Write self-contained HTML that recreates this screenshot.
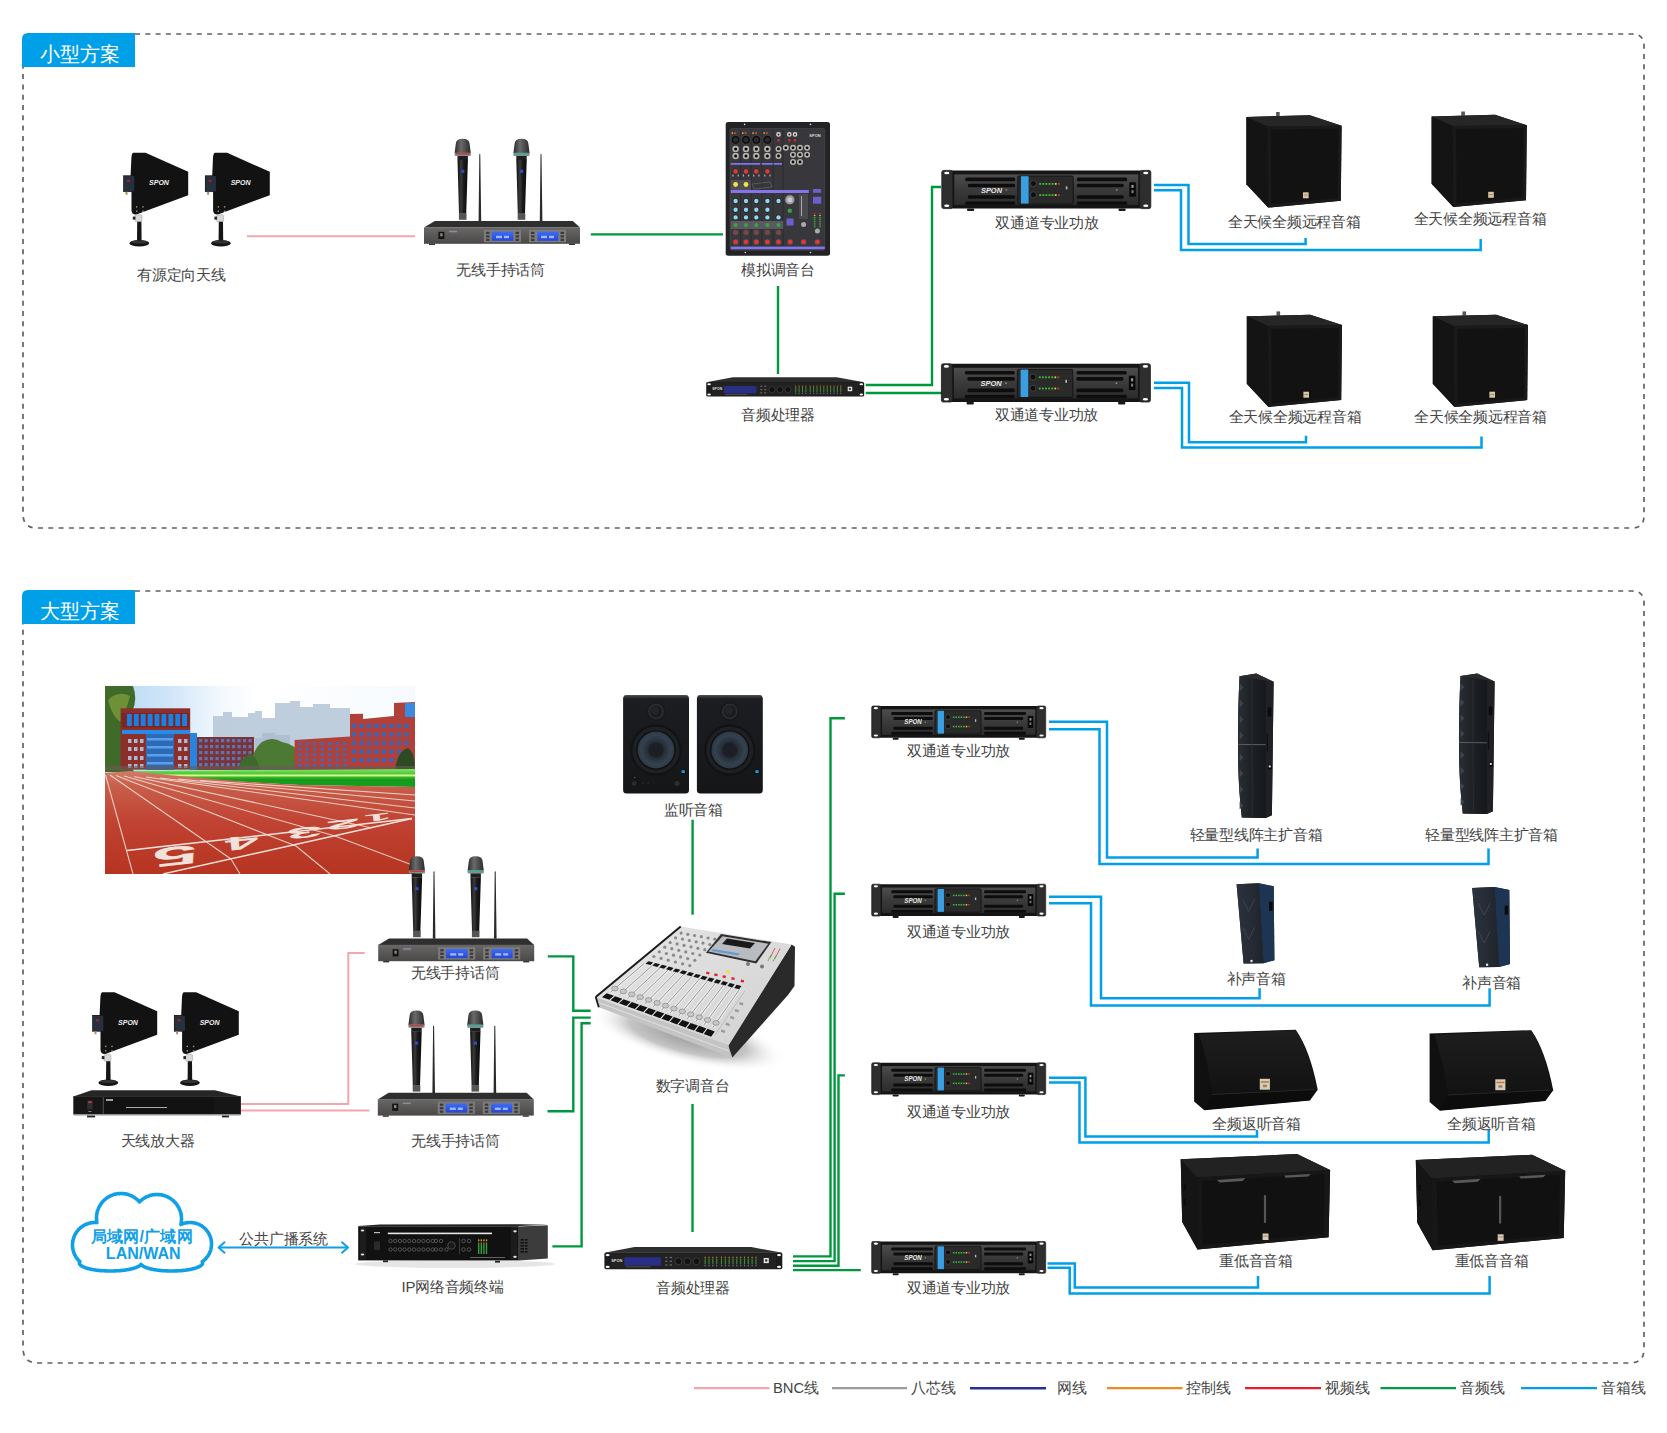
<!DOCTYPE html>
<html><head><meta charset="utf-8">
<style>
html,body{margin:0;padding:0;background:#fff;}
body{width:1667px;height:1433px;overflow:hidden;position:relative;font-family:"Liberation Sans",sans-serif;}
svg{position:absolute;left:0;top:0;}
.t{font-family:"Liberation Sans",sans-serif;font-size:15px;letter-spacing:-0.25px;fill:#444;text-anchor:middle;}
.tab{font-family:"Liberation Sans",sans-serif;font-size:20.3px;fill:#fff;}
.lg{font-family:"Liberation Sans",sans-serif;font-size:14.8px;fill:#444;}
.g{stroke:#00983e;stroke-width:2.4;fill:none;}
.b{stroke:#00a0e9;stroke-width:2.5;fill:none;}
.p{stroke:#f4a6ad;stroke-width:2;fill:none;}
</style></head><body>
<svg width="1667" height="1433" viewBox="0 0 1667 1433">

<defs>
<linearGradient id="brush" x1="0" y1="0" x2="0" y2="1"><stop offset="0" stop-color="#4d4d4d"/><stop offset="0.5" stop-color="#3a3a3a"/><stop offset="1" stop-color="#2c2c2c"/></linearGradient>
<linearGradient id="rxfront" x1="0" y1="0" x2="0" y2="1"><stop offset="0" stop-color="#6a6866"/><stop offset="1" stop-color="#4a4846"/></linearGradient>
<linearGradient id="scr" x1="0" y1="0" x2="0" y2="1"><stop offset="0" stop-color="#3f6cf2"/><stop offset="1" stop-color="#2346d8"/></linearGradient>
<linearGradient id="mich" x1="0" y1="0" x2="1" y2="0"><stop offset="0" stop-color="#111"/><stop offset="0.35" stop-color="#3a3a3a"/><stop offset="0.6" stop-color="#1a1a1a"/><stop offset="1" stop-color="#0c0c0c"/></linearGradient>
<linearGradient id="mhead" x1="0" y1="0" x2="1" y2="0"><stop offset="0" stop-color="#2a2a2a"/><stop offset="0.4" stop-color="#6a6a6a"/><stop offset="1" stop-color="#2a2a2a"/></linearGradient>

<!-- AMP 209 x 41 -->
<g id="amp">
<rect x="10" y="0" width="189" height="38.2" fill="#151515" rx="1"/>
<rect x="0" y="0" width="11" height="38.2" rx="1.8" fill="#2e2e2e" stroke="#1a1a1a" stroke-width="0.8"/>
<rect x="198" y="0" width="11" height="38.2" rx="1.8" fill="#2e2e2e" stroke="#1a1a1a" stroke-width="0.8"/>
<ellipse cx="5" cy="2.6" rx="2.6" ry="1.3" fill="#fff"/><ellipse cx="5" cy="35.4" rx="2.6" ry="1.3" fill="#fff"/>
<ellipse cx="204" cy="2.6" rx="2.6" ry="1.3" fill="#fff"/><ellipse cx="204" cy="35.4" rx="2.6" ry="1.3" fill="#fff"/>
<rect x="12.5" y="4" width="184" height="30.5" fill="url(#brush)"/>
<g fill="#0d0d0d">
<rect x="23.4" y="7.2" width="50" height="3.6" rx="1.5"/><rect x="26" y="13.3" width="47.4" height="3.6" rx="1.5"/>
<rect x="26" y="24.8" width="47.4" height="3.6" rx="1.5"/><rect x="23.4" y="31" width="50" height="3.4" rx="1.5"/>
<rect x="135" y="7.2" width="50.4" height="3.6" rx="1.5"/><rect x="135" y="13.3" width="47" height="3.6" rx="1.5"/>
<rect x="135" y="24.8" width="47" height="3.6" rx="1.5"/><rect x="135" y="31" width="50.4" height="3.4" rx="1.5"/>
</g>
<text x="49.7" y="22.2" font-family="Liberation Sans" font-weight="bold" font-style="italic" font-size="7.6" fill="#e8e8e8" text-anchor="middle" textLength="21" lengthAdjust="spacingAndGlyphs">SPON</text>
<circle cx="64.5" cy="19.4" r="0.9" fill="#a08a60"/><circle cx="175" cy="19.4" r="0.9" fill="#a08a60"/>
<rect x="76" y="5.6" width="55.4" height="28" rx="1.2" fill="#2a2a2a" stroke="#0e0e0e" stroke-width="0.8"/>
<rect x="79.2" y="5.8" width="7.6" height="27.4" fill="#3a9ee2"/>
<circle cx="91.6" cy="13.2" r="3" fill="#0e0e0e" stroke="#5a5a5a" stroke-width="0.6"/>
<circle cx="91.6" cy="24.4" r="3" fill="#0e0e0e" stroke="#5a5a5a" stroke-width="0.6"/>
<g fill="#3fbf3f">
<rect x="97.5" y="12.6" width="1.8" height="1.8"/><rect x="100.6" y="12.6" width="1.8" height="1.8"/><rect x="103.7" y="12.6" width="1.8" height="1.8"/><rect x="106.8" y="12.6" width="1.8" height="1.8"/><rect x="109.9" y="12.6" width="1.8" height="1.8"/>
<rect x="97.5" y="23.8" width="1.8" height="1.8"/><rect x="100.6" y="23.8" width="1.8" height="1.8"/><rect x="103.7" y="23.8" width="1.8" height="1.8"/><rect x="106.8" y="23.8" width="1.8" height="1.8"/><rect x="109.9" y="23.8" width="1.8" height="1.8"/>
</g>
<rect x="113" y="12.6" width="1.8" height="1.8" fill="#e0d030"/><rect x="116.1" y="12.6" width="1.8" height="1.8" fill="#e03020"/>
<rect x="113" y="23.8" width="1.8" height="1.8" fill="#e0d030"/><rect x="116.1" y="23.8" width="1.8" height="1.8" fill="#e03020"/>
<rect x="124" y="16" width="1.6" height="3" fill="#bbb"/>
<rect x="187.5" y="11.9" width="6.5" height="14.4" fill="#080808"/><rect x="189.6" y="14.5" width="2.2" height="3" fill="#999"/><rect x="189.6" y="19.8" width="2.2" height="3" fill="#777"/>
<rect x="25.2" y="38" width="7.2" height="2.6" rx="1" fill="#1a1a1a"/><rect x="176.7" y="38" width="7.2" height="2.6" rx="1" fill="#1a1a1a"/>
</g>

<!-- RECEIVER 156 x 106 -->
<g id="mic">
<path d="M1.2 5 Q1.5 0 8.1 0 Q14.7 0 15 5 L16.2 14.5 L0 14.5 Z" fill="url(#mhead)"/>
<rect x="0" y="14" width="16.2" height="3.2" rx="1" fill="#8a8a8a"/>
<rect x="2.9" y="17.2" width="10.4" height="4" fill="#1e1e1e"/>
<path d="M2.9 21 L13.3 21 L11.6 75 L4.4 75 Z" fill="url(#mich)"/>
<rect x="6.6" y="31" width="3.2" height="3" fill="#2b4fd0"/>
<rect x="4.3" y="74.5" width="7.6" height="6.5" fill="#555"/>
</g>
<g id="rx">
<use href="#mic" x="30.6" y="0"/>
<g transform="translate(89.4,0)"><use href="#mic"/></g>
<rect x="31.8" y="14.2" width="13.8" height="1.6" fill="#c03030" opacity="0.8"/>
<rect x="90.6" y="14.2" width="13.8" height="1.6" fill="#30b0a0" opacity="0.9"/>
<path d="M54.6 82.5 L55.3 16 Q55.8 13.8 56.3 16 L57.2 82.5 Z" fill="#2a2a2a"/>
<path d="M115.8 82.5 L116.5 16 Q117 13.8 117.5 16 L118.4 82.5 Z" fill="#2a2a2a"/>
<path d="M10.8 82.2 H148.8 L156 88.8 H0 Z" fill="#2f2f2f"/>
<rect x="0" y="88.6" width="156" height="16.4" fill="url(#rxfront)"/>
<rect x="5" y="104.8" width="6" height="1.4" fill="#333"/><rect x="145" y="104.8" width="6" height="1.4" fill="#333"/>
<rect x="14.4" y="93" width="6" height="7.2" fill="#151515"/><rect x="16.2" y="94.5" width="2.4" height="3" fill="#888"/>
<rect x="25" y="92" width="8" height="1.5" fill="#8a8aa0"/>
<rect x="60" y="91" width="37" height="12.4" fill="#7c7c7c"/><rect x="105" y="91" width="37" height="12.4" fill="#7c7c7c"/>
<rect x="67.8" y="92.8" width="21.6" height="9.2" fill="url(#scr)"/><rect x="113.4" y="92.8" width="21" height="9.2" fill="url(#scr)"/>
<g fill="#3a3a3a"><rect x="62" y="93" width="3.5" height="2.2"/><rect x="62" y="96.5" width="3.5" height="2.2"/><rect x="62" y="100" width="3.5" height="2.2"/>
<rect x="91.5" y="93" width="3.5" height="2.2"/><rect x="91.5" y="96.5" width="3.5" height="2.2"/><rect x="91.5" y="100" width="3.5" height="2.2"/>
<rect x="107" y="93" width="3.5" height="2.2"/><rect x="107" y="96.5" width="3.5" height="2.2"/><rect x="107" y="100" width="3.5" height="2.2"/>
<rect x="136.5" y="93" width="3.5" height="2.2"/><rect x="136.5" y="96.5" width="3.5" height="2.2"/><rect x="136.5" y="100" width="3.5" height="2.2"/></g>
<g fill="#cfe0ff" opacity="0.7"><rect x="72" y="97" width="6" height="2.4"/><rect x="80" y="97" width="5" height="2.4"/><rect x="117" y="97" width="6" height="2.4"/><rect x="125" y="97" width="5" height="2.4"/></g>
</g>

<!-- ANTENNA 66 x 94 -->
<g id="ant">
<path d="M10.5 0 H22.5 L65.2 19 V42.4 L14 61.5 Q9 62.4 8.5 58 V38.5 H0.6 V23 H7.6 L8.4 5 Q8.8 0 10.5 0 Z" fill="#121212"/>
<rect x="0.6" y="23" width="11" height="16" fill="#26303e" stroke="#111" stroke-width="0.5"/>
<rect x="4" y="27" width="3" height="2" fill="#b02020"/>
<rect x="2.5" y="39" width="2" height="3" fill="#b09060"/>
<text x="36" y="32.3" font-family="Liberation Sans" font-weight="bold" font-style="italic" font-size="7" fill="#f0f0f0" text-anchor="middle">SPON</text>
<g fill="#a8946a"><rect x="13" y="53.4" width="1.4" height="1.4"/><rect x="19.3" y="53.4" width="1.4" height="1.4"/><rect x="13" y="57.8" width="1.4" height="1.4"/><rect x="19.3" y="57.8" width="1.4" height="1.4"/></g>
<rect x="12" y="62" width="7" height="7" rx="1.5" fill="#d8d8d8" stroke="#888" stroke-width="0.4"/>
<rect x="9.8" y="63.8" width="2.6" height="3" fill="#222"/>
<path d="M14.2 69 H18.4 L18.6 88 H14 Z" fill="#151515"/>
<ellipse cx="16.3" cy="90.4" rx="9.9" ry="3.2" fill="#151515"/>
<ellipse cx="16.3" cy="89.2" rx="8.5" ry="1.6" fill="#333"/>
</g>

<!-- PROCESSOR 158 x 20 -->
<g id="proc">
<path d="M26.8 0 H130.4 L158 5 H0 Z" fill="#2e2e2e"/>
<rect x="0" y="4.8" width="158" height="14.6" rx="1.5" fill="#1c1c1c"/>
<rect x="5.5" y="5.6" width="147" height="13" fill="#222"/>
<ellipse cx="2.9" cy="7" rx="1.8" ry="1" fill="#fff"/><ellipse cx="2.9" cy="17.3" rx="1.8" ry="1" fill="#fff"/>
<ellipse cx="155.1" cy="7" rx="1.8" ry="1" fill="#fff"/><ellipse cx="155.1" cy="17.3" rx="1.8" ry="1" fill="#fff"/>
<text x="11" y="13" font-family="Liberation Sans" font-weight="bold" font-size="3.8" fill="#ddd" text-anchor="middle" textLength="10" lengthAdjust="spacingAndGlyphs">SPON</text>
<rect x="17.8" y="8.8" width="32.4" height="7.4" fill="#2a2f86"/>
<rect x="19" y="17" width="22" height="0.6" fill="#666"/>
<g fill="#666"><rect x="54" y="8.5" width="2" height="1.2"/><rect x="58" y="8.5" width="2" height="1.2"/><rect x="54" y="11.8" width="2" height="1.2"/><rect x="58" y="11.8" width="2" height="1.2"/><rect x="54" y="15" width="2" height="1.2"/><rect x="58" y="15" width="2" height="1.2"/></g>
<g fill="#111" stroke="#555" stroke-width="0.5"><circle cx="65.8" cy="12.4" r="3"/><circle cx="73.8" cy="12.4" r="3"/><circle cx="81.8" cy="12.4" r="3"/></g>
<rect x="89" y="9.8" width="1" height="5" fill="#3f8a3a"/><rect x="89" y="8.4" width="1" height="1.1" fill="#d08020"/><rect x="89" y="15.4" width="1" height="1.4" fill="#777"/>
<rect x="92.4" y="9.8" width="1" height="5" fill="#3f8a3a"/><rect x="92.4" y="8.4" width="1" height="1.1" fill="#d08020"/><rect x="92.4" y="15.4" width="1" height="1.4" fill="#777"/>
<rect x="95.8" y="9.8" width="1" height="5" fill="#3f8a3a"/><rect x="95.8" y="8.4" width="1" height="1.1" fill="#d08020"/><rect x="95.8" y="15.4" width="1" height="1.4" fill="#777"/>
<rect x="99.2" y="9.8" width="1" height="5" fill="#3f8a3a"/><rect x="99.2" y="8.4" width="1" height="1.1" fill="#d08020"/><rect x="99.2" y="15.4" width="1" height="1.4" fill="#777"/>
<rect x="103.5" y="9.8" width="1" height="5" fill="#3f8a3a"/><rect x="103.5" y="8.4" width="1" height="1.1" fill="#d08020"/><rect x="103.5" y="15.4" width="1" height="1.4" fill="#777"/>
<rect x="106.9" y="9.8" width="1" height="5" fill="#3f8a3a"/><rect x="106.9" y="8.4" width="1" height="1.1" fill="#d08020"/><rect x="106.9" y="15.4" width="1" height="1.4" fill="#777"/>
<rect x="110.3" y="9.8" width="1" height="5" fill="#3f8a3a"/><rect x="110.3" y="8.4" width="1" height="1.1" fill="#d08020"/><rect x="110.3" y="15.4" width="1" height="1.4" fill="#777"/>
<rect x="113.7" y="9.8" width="1" height="5" fill="#3f8a3a"/><rect x="113.7" y="8.4" width="1" height="1.1" fill="#d08020"/><rect x="113.7" y="15.4" width="1" height="1.4" fill="#777"/>
<rect x="117.1" y="9.8" width="1" height="5" fill="#3f8a3a"/><rect x="117.1" y="8.4" width="1" height="1.1" fill="#d08020"/><rect x="117.1" y="15.4" width="1" height="1.4" fill="#777"/>
<rect x="120.5" y="9.8" width="1" height="5" fill="#3f8a3a"/><rect x="120.5" y="8.4" width="1" height="1.1" fill="#d08020"/><rect x="120.5" y="15.4" width="1" height="1.4" fill="#777"/>
<rect x="123.9" y="9.8" width="1" height="5" fill="#3f8a3a"/><rect x="123.9" y="8.4" width="1" height="1.1" fill="#d08020"/><rect x="123.9" y="15.4" width="1" height="1.4" fill="#777"/>
<rect x="127.3" y="9.8" width="1" height="5" fill="#3f8a3a"/><rect x="127.3" y="8.4" width="1" height="1.1" fill="#d08020"/><rect x="127.3" y="15.4" width="1" height="1.4" fill="#777"/>
<rect x="130.7" y="9.8" width="1" height="5" fill="#3f8a3a"/><rect x="130.7" y="8.4" width="1" height="1.1" fill="#d08020"/><rect x="130.7" y="15.4" width="1" height="1.4" fill="#777"/>
<rect x="134.1" y="9.8" width="1" height="5" fill="#3f8a3a"/><rect x="134.1" y="8.4" width="1" height="1.1" fill="#d08020"/><rect x="134.1" y="15.4" width="1" height="1.4" fill="#777"/>
<rect x="141.5" y="9.5" width="4.5" height="4.5" fill="#e8e8e8"/><rect x="142.7" y="10.7" width="2" height="2" fill="#333"/>
</g>

<!-- CUBE SPEAKER 96 x 96 -->
<g id="cube">
<path d="M0 4.9 L63.4 3.3 L95.2 13.7 L94.4 88.7 L21.7 95.6 L0 72.3 Z" fill="#151515"/>
<rect x="29.7" y="0" width="3.6" height="5.5" fill="#555"/>
<path d="M0 4.9 L63.4 3.3 L95.2 13.7 L20.9 14.5 Z" fill="#262626"/>
<path d="M0 4.9 L20.9 14.5 L21.7 95.6 L0 72.3 Z" fill="#141414"/>
<path d="M20.9 14.5 L95.2 13.7 L94.4 88.7 L21.7 95.6 Z" fill="#1a1a1a"/>
<path d="M24.5 17.5 L92 16.7 L91.4 86 L25 92 Z" fill="#121212"/>
<rect x="56.6" y="80.3" width="5.6" height="6" fill="#d6c6a6"/><rect x="57.6" y="82.6" width="3.6" height="0.8" fill="#8a7a5a"/>
</g>
</defs>

<!-- frames -->
<g fill="none" stroke="#626262" stroke-width="1.7" stroke-dasharray="5 5.3">
<path d="M135 34 H1632 Q1644 34 1644 46 V516 Q1644 528 1632 528 H37 Q23 528 23 514 V67"/>
<path d="M135 591 H1632 Q1644 591 1644 603 V1349 Q1644 1363 1630 1363 H38 Q23 1363 23 1348 V624"/>
</g>
<path d="M22 67 V39 Q22 33 28 33 H135 V67 Z" fill="#00a0e9"/>
<path d="M22 624 V596 Q22 590 28 590 H135 V624 Z" fill="#00a0e9"/>
<text class="tab" x="40" y="61">小型方案</text>
<text class="tab" x="40" y="618">大型方案</text>

<!-- legend -->
<g stroke-width="2.2">
<line x1="694" y1="1388.2" x2="769.5" y2="1388.2" stroke="#f4a6ad"/>
<line x1="832" y1="1388.2" x2="907" y2="1388.2" stroke="#9b9b9b"/>
<line x1="970" y1="1388.2" x2="1046" y2="1388.2" stroke="#2b2f8e" stroke-width="2.6"/>
<line x1="1107" y1="1388.2" x2="1182.5" y2="1388.2" stroke="#f18a1e"/>
<line x1="1245" y1="1388.2" x2="1321" y2="1388.2" stroke="#e51f2b"/>
<line x1="1380.5" y1="1388.2" x2="1456" y2="1388.2" stroke="#009a44"/>
<line x1="1521" y1="1388.2" x2="1597" y2="1388.2" stroke="#00a0e9"/>
</g>
<g class="lg">
<text x="773" y="1393">BNC线</text>
<text x="910.5" y="1393">八芯线</text>
<text x="1056.5" y="1393">网线</text>
<text x="1186" y="1393">控制线</text>
<text x="1324.8" y="1393">视频线</text>
<text x="1459.5" y="1393">音频线</text>
<text x="1600.5" y="1393">音箱线</text>
</g>

<!-- LINES small -->
<path class="p" d="M247 236.2 H415"/>
<path class="g" d="M590.8 234.4 H723"/>
<path class="g" d="M778 286 V374"/>
<path class="g" d="M865.7 385 H932 V187 H941"/>
<path class="g" d="M865.7 393 H942"/>
<path class="b" d="M1154 185 H1188.5 V244 H1305.6 V238"/>
<path class="b" d="M1154 190.2 H1181 V250 H1480.7 V239"/>
<path class="b" d="M1154 382.7 H1189 V442.3 H1306 V435.7"/>
<path class="b" d="M1154 388 H1182 V447.4 H1481.5 V436.5"/>

<!-- LINES large -->
<path class="p" d="M241 1104 H348.3 V953 H364.6"/>
<path class="p" d="M241 1110.5 H369.4"/>
<path class="g" d="M547.8 956.4 H573.3 V1010.8 H590.7"/>
<path class="g" d="M547.5 1111.2 H573.3 V1017.6 H590.7"/>
<path class="g" d="M552.4 1246.4 H581.6 V1023.2 H590.7"/>
<path class="g" d="M692.6 819.7 V914.7"/>
<path class="g" d="M692.5 1104 V1232"/>
<g class="g" stroke-width="1.8">
<path d="M793 1256.4 H830.5 V718.2 H844.9"/>
<path d="M793 1261.1 H834.6 V893.7 H844.9"/>
<path d="M793 1265.8 H838.5 V1075.4 H844.9"/>
<path d="M793 1270.1 H860.8"/>
</g>
<path class="b" d="M1049 721.8 H1107 V857.4 H1257.6 V848.4"/>
<path class="b" d="M1049 729.3 H1099.5 V864 H1488.5 V848.4"/>
<path class="b" d="M1049 896.8 H1101 V998.3 H1259.6 V988.3"/>
<path class="b" d="M1049 903.3 H1091 V1005.5 H1489.6 V988.3"/>
<path class="b" d="M1049 1077.7 H1085.4 V1136.6 H1257 V1130"/>
<path class="b" d="M1049 1082.5 H1079.5 V1142.4 H1488.7 V1130"/>
<path class="b" d="M1047.5 1263.4 H1074.8 V1287.5 H1258 V1276"/>
<path class="b" d="M1047.5 1267.8 H1069.7 V1293.4 H1489.6 V1276"/>


<!-- DEVICES small -->
<use href="#ant" x="123" y="152.8"/>
<use href="#ant" x="204.6" y="152.8"/>
<use href="#rx" x="424" y="138.8"/>
<use href="#proc" x="706.2" y="377.2"/>
<use href="#amp" x="941.8" y="170.4"/>
<use href="#amp" x="941.4" y="363.8"/>
<use href="#cube" x="1246.4" y="112"/>
<use href="#cube" x="1431.6" y="111.5"/>
<use href="#cube" x="1246.8" y="311.4"/>
<use href="#cube" x="1432.8" y="311.4"/>
<g id="amixer">
<rect x="725.7" y="122" width="104.3" height="133.7" rx="2.5" fill="#232326"/>
<rect x="730" y="128.4" width="94.8" height="121.8" rx="2" fill="#38383c" stroke="#4a4a50" stroke-width="0.6"/>
<circle cx="744.6" cy="124.4" r="0.8" fill="#ddd"/><circle cx="810.5" cy="124.4" r="0.8" fill="#ddd"/><circle cx="745.3" cy="252.5" r="0.8" fill="#ddd"/><circle cx="810.5" cy="252.5" r="0.8" fill="#ddd"/>
<line x1="740.6" y1="130" x2="740.6" y2="246" stroke="#29292c" stroke-width="0.8"/>
<line x1="751.1" y1="130" x2="751.1" y2="246" stroke="#29292c" stroke-width="0.8"/>
<line x1="761.9" y1="130" x2="761.9" y2="246" stroke="#29292c" stroke-width="0.8"/>
<line x1="773.1" y1="130" x2="773.1" y2="246" stroke="#29292c" stroke-width="0.8"/>
<line x1="783" y1="130" x2="783" y2="246" stroke="#29292c" stroke-width="0.8"/>
<circle cx="735.6" cy="139.8" r="4.4" fill="#0c0c0c" stroke="#555" stroke-width="0.5"/>
<circle cx="735.6" cy="139.8" r="2.6" fill="#2a2a2a"/>
<rect x="734.1" y="132.2" width="2.2" height="1.6" fill="#e04030"/><rect x="731.6" y="132.4" width="1.5" height="1.4" fill="#cccc40"/>
<circle cx="735.6" cy="148.9" r="3.2" fill="#b8b4ac"/><circle cx="735.6" cy="148.9" r="1.5" fill="#080808"/>
<circle cx="735.6" cy="156" r="3.2" fill="#b8b4ac"/><circle cx="735.6" cy="156" r="1.5" fill="#080808"/>
<circle cx="735.6" cy="171.4" r="3.1" fill="#1d3434"/><circle cx="735.6" cy="171.4" r="2.3" fill="#e83434"/>
<rect x="732.4" y="174.5" width="1.2" height="2" fill="#aaa"/><rect x="737.6" y="174.5" width="1.2" height="2" fill="#aaa"/>
<circle cx="746" cy="139.8" r="4.4" fill="#0c0c0c" stroke="#555" stroke-width="0.5"/>
<circle cx="746" cy="139.8" r="2.6" fill="#2a2a2a"/>
<rect x="744.5" y="132.2" width="2.2" height="1.6" fill="#e04030"/><rect x="742" y="132.4" width="1.5" height="1.4" fill="#cccc40"/>
<circle cx="746" cy="148.9" r="3.2" fill="#b8b4ac"/><circle cx="746" cy="148.9" r="1.5" fill="#080808"/>
<circle cx="746" cy="156" r="3.2" fill="#b8b4ac"/><circle cx="746" cy="156" r="1.5" fill="#080808"/>
<circle cx="746" cy="171.4" r="3.1" fill="#1d3434"/><circle cx="746" cy="171.4" r="2.3" fill="#e83434"/>
<rect x="742.8" y="174.5" width="1.2" height="2" fill="#aaa"/><rect x="748" y="174.5" width="1.2" height="2" fill="#aaa"/>
<circle cx="756.3" cy="139.8" r="4.4" fill="#0c0c0c" stroke="#555" stroke-width="0.5"/>
<circle cx="756.3" cy="139.8" r="2.6" fill="#2a2a2a"/>
<rect x="754.8" y="132.2" width="2.2" height="1.6" fill="#e04030"/><rect x="752.3" y="132.4" width="1.5" height="1.4" fill="#cccc40"/>
<circle cx="756.3" cy="148.9" r="3.2" fill="#b8b4ac"/><circle cx="756.3" cy="148.9" r="1.5" fill="#080808"/>
<circle cx="756.3" cy="156" r="3.2" fill="#b8b4ac"/><circle cx="756.3" cy="156" r="1.5" fill="#080808"/>
<circle cx="756.3" cy="171.4" r="3.1" fill="#1d3434"/><circle cx="756.3" cy="171.4" r="2.3" fill="#e83434"/>
<rect x="753.0999999999999" y="174.5" width="1.2" height="2" fill="#aaa"/><rect x="758.3" y="174.5" width="1.2" height="2" fill="#aaa"/>
<circle cx="767.4" cy="139.8" r="4.4" fill="#0c0c0c" stroke="#555" stroke-width="0.5"/>
<circle cx="767.4" cy="139.8" r="2.6" fill="#2a2a2a"/>
<rect x="765.9" y="132.2" width="2.2" height="1.6" fill="#e04030"/><rect x="763.4" y="132.4" width="1.5" height="1.4" fill="#cccc40"/>
<circle cx="767.4" cy="148.9" r="3.2" fill="#b8b4ac"/><circle cx="767.4" cy="148.9" r="1.5" fill="#080808"/>
<circle cx="767.4" cy="156" r="3.2" fill="#b8b4ac"/><circle cx="767.4" cy="156" r="1.5" fill="#080808"/>
<circle cx="767.4" cy="171.4" r="3.1" fill="#1d3434"/><circle cx="767.4" cy="171.4" r="2.3" fill="#e83434"/>
<rect x="764.1999999999999" y="174.5" width="1.2" height="2" fill="#aaa"/><rect x="769.4" y="174.5" width="1.2" height="2" fill="#aaa"/>
<rect x="730.8" y="163" width="29.4" height="1.8" fill="#7d72e6"/><rect x="761.8" y="163" width="11" height="1.8" fill="#7d72e6"/><rect x="773.6" y="163" width="8.4" height="1.8" fill="#7d72e6"/>
<rect x="730.8" y="180" width="20.2" height="10" fill="#4e4e52"/>
<circle cx="735.6" cy="184.5" r="2.4" fill="#f0e448"/>
<circle cx="746" cy="184.5" r="2.4" fill="#f0e448"/>
<path d="M752 184 L770 182 L772 187 L754 189 Z" fill="none" stroke="#777" stroke-width="0.5"/>
<rect x="730.8" y="190" width="78" height="3" fill="#8277ea"/>
<rect x="813" y="189" width="8.2" height="3.8" fill="#6b5fd0"/><rect x="813" y="196.7" width="8.2" height="7" fill="#6b5fd0"/>
<circle cx="735.6" cy="201" r="2.9" fill="#232326"/><circle cx="735.6" cy="201" r="2.2" fill="#8ed6ee"/>
<circle cx="735.6" cy="209.8" r="2.9" fill="#232326"/><circle cx="735.6" cy="209.8" r="2.2" fill="#8ed6ee"/>
<circle cx="735.6" cy="217.4" r="2.9" fill="#232326"/><circle cx="735.6" cy="217.4" r="2.2" fill="#8ed6ee"/>
<circle cx="746" cy="201" r="2.9" fill="#232326"/><circle cx="746" cy="201" r="2.2" fill="#8ed6ee"/>
<circle cx="746" cy="209.8" r="2.9" fill="#232326"/><circle cx="746" cy="209.8" r="2.2" fill="#8ed6ee"/>
<circle cx="746" cy="217.4" r="2.9" fill="#232326"/><circle cx="746" cy="217.4" r="2.2" fill="#8ed6ee"/>
<circle cx="756.3" cy="201" r="2.9" fill="#232326"/><circle cx="756.3" cy="201" r="2.2" fill="#8ed6ee"/>
<circle cx="756.3" cy="209.8" r="2.9" fill="#232326"/><circle cx="756.3" cy="209.8" r="2.2" fill="#8ed6ee"/>
<circle cx="756.3" cy="217.4" r="2.9" fill="#232326"/><circle cx="756.3" cy="217.4" r="2.2" fill="#8ed6ee"/>
<circle cx="767.4" cy="201" r="2.9" fill="#232326"/><circle cx="767.4" cy="201" r="2.2" fill="#8ed6ee"/>
<circle cx="767.4" cy="209.8" r="2.9" fill="#232326"/><circle cx="767.4" cy="209.8" r="2.2" fill="#8ed6ee"/>
<circle cx="767.4" cy="217.4" r="2.9" fill="#232326"/><circle cx="767.4" cy="217.4" r="2.2" fill="#8ed6ee"/>
<circle cx="778.5" cy="201" r="2.9" fill="#232326"/><circle cx="778.5" cy="201" r="2.2" fill="#8ed6ee"/>
<circle cx="778.5" cy="217.4" r="2.9" fill="#232326"/><circle cx="778.5" cy="217.4" r="2.2" fill="#8ed6ee"/>
<rect x="730.8" y="221" width="52.5" height="8" fill="#5a5a5e"/>
<circle cx="735.6" cy="225" r="2.1" fill="#3aa04a"/>
<circle cx="735.6" cy="232.5" r="2.8" fill="#505054"/><circle cx="735.6" cy="232.5" r="2.1" fill="#8a4040"/>
<circle cx="735.6" cy="241.9" r="2.9" fill="#505054"/><circle cx="735.6" cy="241.9" r="2.2" fill="#ec3232"/>
<circle cx="746" cy="225" r="2.1" fill="#3aa04a"/>
<circle cx="746" cy="232.5" r="2.8" fill="#505054"/><circle cx="746" cy="232.5" r="2.1" fill="#8a4040"/>
<circle cx="746" cy="241.9" r="2.9" fill="#505054"/><circle cx="746" cy="241.9" r="2.2" fill="#ec3232"/>
<circle cx="756.3" cy="225" r="2.1" fill="#3aa04a"/>
<circle cx="756.3" cy="232.5" r="2.8" fill="#505054"/><circle cx="756.3" cy="232.5" r="2.1" fill="#8a4040"/>
<circle cx="756.3" cy="241.9" r="2.9" fill="#505054"/><circle cx="756.3" cy="241.9" r="2.2" fill="#ec3232"/>
<circle cx="767.4" cy="225" r="2.1" fill="#3aa04a"/>
<circle cx="767.4" cy="232.5" r="2.8" fill="#505054"/><circle cx="767.4" cy="232.5" r="2.1" fill="#8a4040"/>
<circle cx="767.4" cy="241.9" r="2.9" fill="#505054"/><circle cx="767.4" cy="241.9" r="2.2" fill="#ec3232"/>
<circle cx="778.5" cy="225" r="2.1" fill="#3aa04a"/>
<circle cx="778.5" cy="232.5" r="2.8" fill="#505054"/><circle cx="778.5" cy="232.5" r="2.1" fill="#8a4040"/>
<circle cx="778.5" cy="241.9" r="2.9" fill="#505054"/><circle cx="778.5" cy="241.9" r="2.2" fill="#ec3232"/>
<circle cx="790.2" cy="241.9" r="2.9" fill="#505054"/><circle cx="790.2" cy="241.9" r="2.2" fill="#ec3232"/>
<circle cx="803.6" cy="241.9" r="2.9" fill="#505054"/><circle cx="803.6" cy="241.9" r="2.2" fill="#ec3232"/>
<circle cx="817.4" cy="241.9" r="2.9" fill="#505054"/><circle cx="817.4" cy="241.9" r="2.2" fill="#ec3232"/>
<rect x="730.8" y="246.6" width="94" height="2.6" fill="#8277ea"/>
<circle cx="789.8" cy="199.8" r="5" fill="#9a9a9e" stroke="#333" stroke-width="0.6"/><circle cx="789.8" cy="199.8" r="2.6" fill="#c8c8cc"/>
<circle cx="789.8" cy="210.8" r="2.2" fill="#3aa04a"/>
<rect x="786.5" y="218.5" width="7" height="7" fill="#6b5fd0"/>
<rect x="798.6" y="193.5" width="9.6" height="26" fill="#4a4a4e" stroke="#2a2a2e" stroke-width="0.4"/>
<rect x="801" y="196" width="1" height="20" fill="#aaa"/>
<circle cx="803.6" cy="224.5" r="2.5" fill="#aaa"/><circle cx="817.4" cy="231" r="2.5" fill="#aaa"/>
<rect x="813.8" y="213.0" width="1.6" height="1.1" fill="#e03030"/><rect x="819.2" y="213.0" width="1.6" height="1.1" fill="#e03030"/>
<rect x="813.8" y="214.9" width="1.6" height="1.1" fill="#e0c030"/><rect x="819.2" y="214.9" width="1.6" height="1.1" fill="#e0c030"/>
<rect x="813.8" y="216.8" width="1.6" height="1.1" fill="#40b040"/><rect x="819.2" y="216.8" width="1.6" height="1.1" fill="#40b040"/>
<rect x="813.8" y="218.7" width="1.6" height="1.1" fill="#40b040"/><rect x="819.2" y="218.7" width="1.6" height="1.1" fill="#40b040"/>
<rect x="813.8" y="220.6" width="1.6" height="1.1" fill="#40b040"/><rect x="819.2" y="220.6" width="1.6" height="1.1" fill="#40b040"/>
<rect x="813.8" y="222.5" width="1.6" height="1.1" fill="#40b040"/><rect x="819.2" y="222.5" width="1.6" height="1.1" fill="#40b040"/>
<rect x="813.8" y="224.4" width="1.6" height="1.1" fill="#40b040"/><rect x="819.2" y="224.4" width="1.6" height="1.1" fill="#40b040"/>
<rect x="813.8" y="226.3" width="1.6" height="1.1" fill="#40b040"/><rect x="819.2" y="226.3" width="1.6" height="1.1" fill="#40b040"/>
<circle cx="778.5" cy="134.4" r="2.3" fill="#ddd"/><circle cx="778.5" cy="134.4" r="1" fill="#222"/>
<circle cx="778.5" cy="140.2" r="2.3" fill="#333"/><circle cx="778.5" cy="140.2" r="1.3" fill="#e03030"/>
<circle cx="789.3" cy="134.4" r="2.3" fill="#ddd"/><circle cx="789.3" cy="134.4" r="1" fill="#222"/>
<circle cx="789.3" cy="140.2" r="2.3" fill="#333"/><circle cx="789.3" cy="140.2" r="1.3" fill="#e03030"/>
<circle cx="795" cy="134.4" r="2.3" fill="#ddd"/><circle cx="795" cy="134.4" r="1" fill="#222"/>
<circle cx="795" cy="140.2" r="2.3" fill="#333"/><circle cx="795" cy="140.2" r="1.3" fill="#e03030"/>
<circle cx="778.5" cy="148.9" r="3" fill="#b8b4ac"/><circle cx="778.5" cy="148.9" r="1.4" fill="#080808"/>
<circle cx="778.5" cy="156" r="3" fill="#b8b4ac"/><circle cx="778.5" cy="156" r="1.4" fill="#080808"/>
<circle cx="785.8" cy="147.8" r="3" fill="#b8b4ac"/><circle cx="785.8" cy="147.8" r="1.4" fill="#080808"/>
<circle cx="793" cy="147.8" r="3" fill="#b8b4ac"/><circle cx="793" cy="147.8" r="1.4" fill="#080808"/>
<circle cx="800" cy="147.8" r="3" fill="#b8b4ac"/><circle cx="800" cy="147.8" r="1.4" fill="#080808"/>
<circle cx="807.1" cy="147.8" r="3" fill="#b8b4ac"/><circle cx="807.1" cy="147.8" r="1.4" fill="#080808"/>
<circle cx="793" cy="154.7" r="3" fill="#b8b4ac"/><circle cx="793" cy="154.7" r="1.4" fill="#080808"/>
<circle cx="800" cy="154.7" r="3" fill="#b8b4ac"/><circle cx="800" cy="154.7" r="1.4" fill="#080808"/>
<circle cx="807.1" cy="154.7" r="3" fill="#b8b4ac"/><circle cx="807.1" cy="154.7" r="1.4" fill="#080808"/>
<circle cx="793" cy="162" r="3" fill="#b8b4ac"/><circle cx="793" cy="162" r="1.4" fill="#080808"/>
<circle cx="800" cy="162" r="3" fill="#b8b4ac"/><circle cx="800" cy="162" r="1.4" fill="#080808"/>
<text x="815" y="137.3" font-family="Liberation Sans" font-weight="bold" font-size="4" fill="#ddd" text-anchor="middle">SPON</text>
</g>
<!-- DEVICES large -->
<defs><clipPath id="phc"><rect x="105" y="686" width="310" height="188"/></clipPath>
<linearGradient id="sky" x1="0" y1="0" x2="1" y2="0"><stop offset="0" stop-color="#b4d6f4"/><stop offset="0.2" stop-color="#cfe5f8"/><stop offset="0.38" stop-color="#f4f9fe"/><stop offset="0.5" stop-color="#ffffff"/><stop offset="1" stop-color="#f6fafe"/></linearGradient>
<linearGradient id="trk" x1="0" y1="0" x2="0" y2="1"><stop offset="0" stop-color="#d47a68"/><stop offset="0.15" stop-color="#c85e4a"/><stop offset="0.5" stop-color="#c04232"/><stop offset="1" stop-color="#b63421"/></linearGradient>
<linearGradient id="fld" x1="0" y1="0" x2="0" y2="1"><stop offset="0" stop-color="#7ee85c"/><stop offset="0.25" stop-color="#52c840"/><stop offset="0.36" stop-color="#d4fc84"/><stop offset="0.46" stop-color="#3cb42c"/><stop offset="0.6" stop-color="#129c1a"/><stop offset="1" stop-color="#189c20"/></linearGradient>
</defs>
<g clip-path="url(#phc)">
<rect x="105" y="686" width="310" height="188" fill="url(#sky)"/>
<path d="M213 770 V716 H223 V712 H232 V717 H248 V713 H255 V711 H262 V718 H275 V703 H290 V701 H300 V707 H313 V704 H330 V708 H350 V740 H300 V770 Z" fill="#b4c6d6" opacity="0.85"/>
<path d="M255 770 V738 H262 V733 H275 V735 H290 V770 Z" fill="#a9bccd" opacity="0.8"/>
<path d="M105 686 H133 Q138 700 132 712 Q128 730 135 745 Q128 760 134 772 H105 Z" fill="#3f6a2a"/>
<path d="M108 700 Q118 690 130 696 Q126 712 120 722 Q112 716 108 700 Z" fill="#7a9a3a" opacity="0.8"/>
<rect x="120.6" y="708.3" width="69.6" height="61" fill="#8c2e2a"/>
<rect x="121.5" y="713" width="68" height="14.5" fill="#7a2622"/>
<rect x="127.0" y="714" width="4.8" height="12" fill="#1e7fe0"/>
<rect x="133.9" y="714" width="4.8" height="12" fill="#1e7fe0"/>
<rect x="140.8" y="714" width="4.8" height="12" fill="#1e7fe0"/>
<rect x="147.7" y="714" width="4.8" height="12" fill="#1e7fe0"/>
<rect x="154.6" y="714" width="4.8" height="12" fill="#1e7fe0"/>
<rect x="161.5" y="714" width="4.8" height="12" fill="#1e7fe0"/>
<rect x="168.4" y="714" width="4.8" height="12" fill="#1e7fe0"/>
<rect x="175.3" y="714" width="4.8" height="12" fill="#1e7fe0"/>
<rect x="182.2" y="714" width="4.8" height="12" fill="#1e7fe0"/>
<rect x="122" y="730" width="68" height="4" fill="#2a8ae6"/>
<rect x="146" y="734" width="28" height="36" fill="#2f6ab8"/>
<rect x="147" y="738" width="26" height="2.5" fill="#5aa0e8"/>
<rect x="147" y="746" width="26" height="2.5" fill="#5aa0e8"/>
<rect x="147" y="754" width="26" height="2.5" fill="#5aa0e8"/>
<rect x="147" y="762" width="26" height="2.5" fill="#5aa0e8"/>
<rect x="128" y="739" width="3.5" height="4" fill="#b0b8d0"/>
<rect x="128" y="747" width="3.5" height="4" fill="#b0b8d0"/>
<rect x="128" y="756" width="3.5" height="4" fill="#b0b8d0"/>
<rect x="128" y="764" width="3.5" height="4" fill="#b0b8d0"/>
<rect x="134" y="739" width="3.5" height="4" fill="#b0b8d0"/>
<rect x="134" y="747" width="3.5" height="4" fill="#b0b8d0"/>
<rect x="134" y="756" width="3.5" height="4" fill="#b0b8d0"/>
<rect x="134" y="764" width="3.5" height="4" fill="#b0b8d0"/>
<rect x="140" y="739" width="3.5" height="4" fill="#b0b8d0"/>
<rect x="140" y="747" width="3.5" height="4" fill="#b0b8d0"/>
<rect x="140" y="756" width="3.5" height="4" fill="#b0b8d0"/>
<rect x="140" y="764" width="3.5" height="4" fill="#b0b8d0"/>
<rect x="178" y="739" width="3.5" height="4" fill="#b0b8d0"/>
<rect x="178" y="747" width="3.5" height="4" fill="#b0b8d0"/>
<rect x="178" y="756" width="3.5" height="4" fill="#b0b8d0"/>
<rect x="178" y="764" width="3.5" height="4" fill="#b0b8d0"/>
<rect x="184" y="739" width="3.5" height="4" fill="#b0b8d0"/>
<rect x="184" y="747" width="3.5" height="4" fill="#b0b8d0"/>
<rect x="184" y="756" width="3.5" height="4" fill="#b0b8d0"/>
<rect x="184" y="764" width="3.5" height="4" fill="#b0b8d0"/>
<rect x="190" y="733" width="7" height="37" fill="#2784e0"/>
<rect x="197" y="737" width="57" height="33" fill="#7a3438"/>
<rect x="199.0" y="739" width="3.2" height="3.2" fill="#5c74b0"/>
<rect x="204.5" y="739" width="3.2" height="3.2" fill="#5c74b0"/>
<rect x="210.0" y="739" width="3.2" height="3.2" fill="#5c74b0"/>
<rect x="215.5" y="739" width="3.2" height="3.2" fill="#5c74b0"/>
<rect x="221.0" y="739" width="3.2" height="3.2" fill="#5c74b0"/>
<rect x="226.5" y="739" width="3.2" height="3.2" fill="#5c74b0"/>
<rect x="232.0" y="739" width="3.2" height="3.2" fill="#5c74b0"/>
<rect x="237.5" y="739" width="3.2" height="3.2" fill="#5c74b0"/>
<rect x="243.0" y="739" width="3.2" height="3.2" fill="#5c74b0"/>
<rect x="248.5" y="739" width="3.2" height="3.2" fill="#5c74b0"/>
<rect x="199.0" y="745" width="3.2" height="3.2" fill="#5c74b0"/>
<rect x="204.5" y="745" width="3.2" height="3.2" fill="#5c74b0"/>
<rect x="210.0" y="745" width="3.2" height="3.2" fill="#5c74b0"/>
<rect x="215.5" y="745" width="3.2" height="3.2" fill="#5c74b0"/>
<rect x="221.0" y="745" width="3.2" height="3.2" fill="#5c74b0"/>
<rect x="226.5" y="745" width="3.2" height="3.2" fill="#5c74b0"/>
<rect x="232.0" y="745" width="3.2" height="3.2" fill="#5c74b0"/>
<rect x="237.5" y="745" width="3.2" height="3.2" fill="#5c74b0"/>
<rect x="243.0" y="745" width="3.2" height="3.2" fill="#5c74b0"/>
<rect x="248.5" y="745" width="3.2" height="3.2" fill="#5c74b0"/>
<rect x="199.0" y="751" width="3.2" height="3.2" fill="#5c74b0"/>
<rect x="204.5" y="751" width="3.2" height="3.2" fill="#5c74b0"/>
<rect x="210.0" y="751" width="3.2" height="3.2" fill="#5c74b0"/>
<rect x="215.5" y="751" width="3.2" height="3.2" fill="#5c74b0"/>
<rect x="221.0" y="751" width="3.2" height="3.2" fill="#5c74b0"/>
<rect x="226.5" y="751" width="3.2" height="3.2" fill="#5c74b0"/>
<rect x="232.0" y="751" width="3.2" height="3.2" fill="#5c74b0"/>
<rect x="237.5" y="751" width="3.2" height="3.2" fill="#5c74b0"/>
<rect x="243.0" y="751" width="3.2" height="3.2" fill="#5c74b0"/>
<rect x="248.5" y="751" width="3.2" height="3.2" fill="#5c74b0"/>
<rect x="199.0" y="757" width="3.2" height="3.2" fill="#5c74b0"/>
<rect x="204.5" y="757" width="3.2" height="3.2" fill="#5c74b0"/>
<rect x="210.0" y="757" width="3.2" height="3.2" fill="#5c74b0"/>
<rect x="215.5" y="757" width="3.2" height="3.2" fill="#5c74b0"/>
<rect x="221.0" y="757" width="3.2" height="3.2" fill="#5c74b0"/>
<rect x="226.5" y="757" width="3.2" height="3.2" fill="#5c74b0"/>
<rect x="232.0" y="757" width="3.2" height="3.2" fill="#5c74b0"/>
<rect x="237.5" y="757" width="3.2" height="3.2" fill="#5c74b0"/>
<rect x="243.0" y="757" width="3.2" height="3.2" fill="#5c74b0"/>
<rect x="248.5" y="757" width="3.2" height="3.2" fill="#5c74b0"/>
<rect x="199.0" y="763" width="3.2" height="3.2" fill="#5c74b0"/>
<rect x="204.5" y="763" width="3.2" height="3.2" fill="#5c74b0"/>
<rect x="210.0" y="763" width="3.2" height="3.2" fill="#5c74b0"/>
<rect x="215.5" y="763" width="3.2" height="3.2" fill="#5c74b0"/>
<rect x="221.0" y="763" width="3.2" height="3.2" fill="#5c74b0"/>
<rect x="226.5" y="763" width="3.2" height="3.2" fill="#5c74b0"/>
<rect x="232.0" y="763" width="3.2" height="3.2" fill="#5c74b0"/>
<rect x="237.5" y="763" width="3.2" height="3.2" fill="#5c74b0"/>
<rect x="243.0" y="763" width="3.2" height="3.2" fill="#5c74b0"/>
<rect x="248.5" y="763" width="3.2" height="3.2" fill="#5c74b0"/>
<path d="M250 770 Q252 750 262 742 Q272 736 282 742 Q296 744 300 756 L300 770 Z" fill="#4c7a34"/>
<path d="M238 770 Q240 758 250 754 Q258 758 260 770 Z" fill="#3e6a2e"/>
<path d="M294.6 770 V740 L350 736.5 V714 L363 713.7 V719 L394 716 V703 L415 702 V770 Z" fill="#b0403a"/>
<rect x="298.0" y="742.0" width="3.4" height="3" fill="#4a66a8"/>
<rect x="305.5" y="742.0" width="3.4" height="3" fill="#4a66a8"/>
<rect x="313.0" y="742.0" width="3.4" height="3" fill="#4a66a8"/>
<rect x="320.5" y="742.0" width="3.4" height="3" fill="#4a66a8"/>
<rect x="328.0" y="742.0" width="3.4" height="3" fill="#4a66a8"/>
<rect x="335.5" y="742.0" width="3.4" height="3" fill="#4a66a8"/>
<rect x="343.0" y="742.0" width="3.4" height="3" fill="#4a66a8"/>
<rect x="352.0" y="724.0" width="4" height="4.2" fill="#3a66b8"/>
<rect x="359.5" y="724.0" width="4" height="4.2" fill="#3a66b8"/>
<rect x="367.0" y="724.0" width="4" height="4.2" fill="#3a66b8"/>
<rect x="374.5" y="724.0" width="4" height="4.2" fill="#3a66b8"/>
<rect x="382.0" y="724.0" width="4" height="4.2" fill="#3a66b8"/>
<rect x="389.5" y="724.0" width="4" height="4.2" fill="#3a66b8"/>
<rect x="397.0" y="724.0" width="4" height="4.2" fill="#3a66b8"/>
<rect x="404.5" y="724.0" width="4" height="4.2" fill="#3a66b8"/>
<rect x="298.0" y="747.5" width="3.4" height="3" fill="#4a66a8"/>
<rect x="305.5" y="747.5" width="3.4" height="3" fill="#4a66a8"/>
<rect x="313.0" y="747.5" width="3.4" height="3" fill="#4a66a8"/>
<rect x="320.5" y="747.5" width="3.4" height="3" fill="#4a66a8"/>
<rect x="328.0" y="747.5" width="3.4" height="3" fill="#4a66a8"/>
<rect x="335.5" y="747.5" width="3.4" height="3" fill="#4a66a8"/>
<rect x="343.0" y="747.5" width="3.4" height="3" fill="#4a66a8"/>
<rect x="352.0" y="732.5" width="4" height="4.2" fill="#3a66b8"/>
<rect x="359.5" y="732.5" width="4" height="4.2" fill="#3a66b8"/>
<rect x="367.0" y="732.5" width="4" height="4.2" fill="#3a66b8"/>
<rect x="374.5" y="732.5" width="4" height="4.2" fill="#3a66b8"/>
<rect x="382.0" y="732.5" width="4" height="4.2" fill="#3a66b8"/>
<rect x="389.5" y="732.5" width="4" height="4.2" fill="#3a66b8"/>
<rect x="397.0" y="732.5" width="4" height="4.2" fill="#3a66b8"/>
<rect x="404.5" y="732.5" width="4" height="4.2" fill="#3a66b8"/>
<rect x="298.0" y="753.0" width="3.4" height="3" fill="#4a66a8"/>
<rect x="305.5" y="753.0" width="3.4" height="3" fill="#4a66a8"/>
<rect x="313.0" y="753.0" width="3.4" height="3" fill="#4a66a8"/>
<rect x="320.5" y="753.0" width="3.4" height="3" fill="#4a66a8"/>
<rect x="328.0" y="753.0" width="3.4" height="3" fill="#4a66a8"/>
<rect x="335.5" y="753.0" width="3.4" height="3" fill="#4a66a8"/>
<rect x="343.0" y="753.0" width="3.4" height="3" fill="#4a66a8"/>
<rect x="352.0" y="741.0" width="4" height="4.2" fill="#3a66b8"/>
<rect x="359.5" y="741.0" width="4" height="4.2" fill="#3a66b8"/>
<rect x="367.0" y="741.0" width="4" height="4.2" fill="#3a66b8"/>
<rect x="374.5" y="741.0" width="4" height="4.2" fill="#3a66b8"/>
<rect x="382.0" y="741.0" width="4" height="4.2" fill="#3a66b8"/>
<rect x="389.5" y="741.0" width="4" height="4.2" fill="#3a66b8"/>
<rect x="397.0" y="741.0" width="4" height="4.2" fill="#3a66b8"/>
<rect x="404.5" y="741.0" width="4" height="4.2" fill="#3a66b8"/>
<rect x="298.0" y="758.5" width="3.4" height="3" fill="#4a66a8"/>
<rect x="305.5" y="758.5" width="3.4" height="3" fill="#4a66a8"/>
<rect x="313.0" y="758.5" width="3.4" height="3" fill="#4a66a8"/>
<rect x="320.5" y="758.5" width="3.4" height="3" fill="#4a66a8"/>
<rect x="328.0" y="758.5" width="3.4" height="3" fill="#4a66a8"/>
<rect x="335.5" y="758.5" width="3.4" height="3" fill="#4a66a8"/>
<rect x="343.0" y="758.5" width="3.4" height="3" fill="#4a66a8"/>
<rect x="352.0" y="749.5" width="4" height="4.2" fill="#3a66b8"/>
<rect x="359.5" y="749.5" width="4" height="4.2" fill="#3a66b8"/>
<rect x="367.0" y="749.5" width="4" height="4.2" fill="#3a66b8"/>
<rect x="374.5" y="749.5" width="4" height="4.2" fill="#3a66b8"/>
<rect x="382.0" y="749.5" width="4" height="4.2" fill="#3a66b8"/>
<rect x="389.5" y="749.5" width="4" height="4.2" fill="#3a66b8"/>
<rect x="397.0" y="749.5" width="4" height="4.2" fill="#3a66b8"/>
<rect x="404.5" y="749.5" width="4" height="4.2" fill="#3a66b8"/>
<rect x="298.0" y="764.0" width="3.4" height="3" fill="#4a66a8"/>
<rect x="305.5" y="764.0" width="3.4" height="3" fill="#4a66a8"/>
<rect x="313.0" y="764.0" width="3.4" height="3" fill="#4a66a8"/>
<rect x="320.5" y="764.0" width="3.4" height="3" fill="#4a66a8"/>
<rect x="328.0" y="764.0" width="3.4" height="3" fill="#4a66a8"/>
<rect x="335.5" y="764.0" width="3.4" height="3" fill="#4a66a8"/>
<rect x="343.0" y="764.0" width="3.4" height="3" fill="#4a66a8"/>
<rect x="352.0" y="758.0" width="4" height="4.2" fill="#3a66b8"/>
<rect x="359.5" y="758.0" width="4" height="4.2" fill="#3a66b8"/>
<rect x="367.0" y="758.0" width="4" height="4.2" fill="#3a66b8"/>
<rect x="374.5" y="758.0" width="4" height="4.2" fill="#3a66b8"/>
<rect x="382.0" y="758.0" width="4" height="4.2" fill="#3a66b8"/>
<rect x="389.5" y="758.0" width="4" height="4.2" fill="#3a66b8"/>
<rect x="397.0" y="758.0" width="4" height="4.2" fill="#3a66b8"/>
<rect x="404.5" y="758.0" width="4" height="4.2" fill="#3a66b8"/>
<rect x="405" y="703" width="10" height="14" fill="#3a8ae0"/>
<path d="M395 770 Q398 750 408 748 Q415 752 415 770 Z" fill="#2e4a22"/>
<rect x="105" y="766" width="310" height="4" fill="#6a5a5a" opacity="0.6"/>
<path d="M130 771 L415 769 L415 787 L300 785 Q220 781 165 776 Z" fill="url(#fld)"/>
<path d="M105 773 L130 771 Q220 781 300 785 L415 787 V874 H105 Z" fill="url(#trk)"/>
<line x1="105.5" y1="775" x2="133" y2="874" stroke="#f2e4dc" stroke-width="1.1" opacity="0.85"/>
<line x1="110" y1="775" x2="231" y2="859" stroke="#f2e4dc" stroke-width="1.1" opacity="0.85"/>
<line x1="116" y1="775.5" x2="296" y2="846" stroke="#f2e4dc" stroke-width="1.1" opacity="0.85"/>
<line x1="124" y1="776" x2="335" y2="836" stroke="#f2e4dc" stroke-width="1.1" opacity="0.85"/>
<line x1="134" y1="776.5" x2="372" y2="828" stroke="#f2e4dc" stroke-width="1.1" opacity="0.85"/>
<line x1="146" y1="777" x2="415" y2="815" stroke="#f2e4dc" stroke-width="1.1" opacity="0.85"/>
<line x1="160" y1="778" x2="415" y2="808" stroke="#f2e4dc" stroke-width="1.1" opacity="0.85"/>
<line x1="178" y1="779" x2="415" y2="801" stroke="#f2e4dc" stroke-width="1.1" opacity="0.85"/>
<line x1="200" y1="780.5" x2="415" y2="795" stroke="#f2e4dc" stroke-width="1.1" opacity="0.85"/>
<line x1="231" y1="859" x2="240" y2="874" stroke="#f2e4dc" stroke-width="1.1" opacity="0.85"/>
<line x1="296" y1="846" x2="330" y2="874" stroke="#f2e4dc" stroke-width="1.1" opacity="0.85"/>
<line x1="335" y1="836" x2="415" y2="866" stroke="#f2e4dc" stroke-width="1.1" opacity="0.85"/>
<line x1="127" y1="850.5" x2="412" y2="818.5" stroke="#f2e4dc" stroke-width="1.3"/>
<line x1="163" y1="874" x2="412" y2="818.5" stroke="#f2e4dc" stroke-width="1.3"/>
<text font-family="Liberation Sans" font-weight="bold" font-size="27" fill="#f0e2da" text-anchor="middle" dominant-baseline="central" transform="translate(175.5,856) rotate(173.6) scale(3.0,1)">5</text>
<text font-family="Liberation Sans" font-weight="bold" font-size="19" fill="#f0e2da" text-anchor="middle" dominant-baseline="central" transform="translate(242,842.8) rotate(173.6) scale(3.2,1)">4</text>
<text font-family="Liberation Sans" font-weight="bold" font-size="15" fill="#f0e2da" text-anchor="middle" dominant-baseline="central" transform="translate(304.3,832.5) rotate(173.6) scale(4.3,1)">3</text>
<text font-family="Liberation Sans" font-weight="bold" font-size="12.5" fill="#f0e2da" text-anchor="middle" dominant-baseline="central" transform="translate(343,824.5) rotate(173.6) scale(5.0,1)">2</text>
<text font-family="Liberation Sans" font-weight="bold" font-size="9.7" fill="#f0e2da" text-anchor="middle" dominant-baseline="central" transform="translate(377.7,817.5) rotate(173.6) scale(5.0,1)">1</text>
</g>
<use href="#rx" x="378.2" y="856.2"/>
<use href="#rx" x="377.8" y="1010.6"/>
<use href="#ant" x="92" y="992.3"/>
<use href="#ant" x="173.6" y="992.3"/>
<g transform="translate(604.4,1247.1) scale(1.126,1.144)"><use href="#proc"/></g>
<g transform="translate(871.7,706) scale(0.8325)"><use href="#amp"/></g>
<g transform="translate(871.7,884.2) scale(0.8325)"><use href="#amp"/></g>
<g transform="translate(871.7,1062.8) scale(0.8325)"><use href="#amp"/></g>
<g transform="translate(871.7,1241.5) scale(0.8325)"><use href="#amp"/></g>

<defs><radialGradient id="cone" cx="0.5" cy="0.5" r="0.5"><stop offset="0" stop-color="#1f2227"/><stop offset="0.45" stop-color="#252d36"/><stop offset="0.8" stop-color="#34424f"/><stop offset="1" stop-color="#2c3844"/></radialGradient>
<linearGradient id="monb" x1="0" y1="0" x2="0" y2="1"><stop offset="0" stop-color="#2a2b2e"/><stop offset="0.05" stop-color="#1c1d20"/><stop offset="1" stop-color="#151618"/></linearGradient></defs>
<rect x="623.1" y="695.2" width="65.9" height="98.4" rx="3.5" fill="url(#monb)"/>
<rect x="623.9" y="695.6" width="64.30000000000001" height="2" rx="1" fill="#3a3b3e"/>
<circle cx="656.0" cy="711.4" r="9.5" fill="#17181a"/><circle cx="656.0" cy="711.4" r="8" fill="#2a2b2e"/><circle cx="656.0" cy="711.4" r="6" fill="#1a1b1d"/>
<circle cx="655.0" cy="710.4" r="4" fill="#232427"/>
<circle cx="656.0" cy="750" r="25.6" fill="#111214"/><circle cx="656.0" cy="750" r="23.5" fill="#1f2023"/>
<circle cx="656.0" cy="750" r="19.8" fill="#0e0f10"/><circle cx="656.0" cy="750" r="18.4" fill="url(#cone)"/>
<circle cx="656.0" cy="750" r="7.5" fill="#1c2026"/>
<rect x="680.6" y="769.4" width="5.2" height="4.4" rx="1.2" fill="#0a0a0a"/><rect x="681.5" y="770.2" width="3.4" height="2.8" fill="#1a9ad8"/>
<rect x="696.9" y="695.2" width="65.9" height="98.4" rx="3.5" fill="url(#monb)"/>
<rect x="697.6999999999999" y="695.6" width="64.30000000000001" height="2" rx="1" fill="#3a3b3e"/>
<circle cx="729.8" cy="711.4" r="9.5" fill="#17181a"/><circle cx="729.8" cy="711.4" r="8" fill="#2a2b2e"/><circle cx="729.8" cy="711.4" r="6" fill="#1a1b1d"/>
<circle cx="728.8" cy="710.4" r="4" fill="#232427"/>
<circle cx="729.8" cy="750" r="25.6" fill="#111214"/><circle cx="729.8" cy="750" r="23.5" fill="#1f2023"/>
<circle cx="729.8" cy="750" r="19.8" fill="#0e0f10"/><circle cx="729.8" cy="750" r="18.4" fill="url(#cone)"/>
<circle cx="729.8" cy="750" r="7.5" fill="#1c2026"/>
<rect x="754.4" y="769.4" width="5.2" height="4.4" rx="1.2" fill="#0a0a0a"/><rect x="755.3" y="770.2" width="3.4" height="2.8" fill="#1a9ad8"/>
<circle cx="634.2" cy="783.5" r="3" fill="#2a2b2e" stroke="#0a0a0a" stroke-width="0.6"/><circle cx="677" cy="783.5" r="3.3" fill="#2a2b2e" stroke="#0a0a0a" stroke-width="0.6"/>
<circle cx="643.3" cy="783" r="0.8" fill="#333"/><circle cx="648.2" cy="783" r="0.8" fill="#333"/><circle cx="634.8" cy="777.6" r="0.6" fill="#3a8ad0"/>
<defs><radialGradient id="dshadow" cx="0.5" cy="0.5" r="0.5"><stop offset="0" stop-color="#9a9a9a"/><stop offset="0.6" stop-color="#c4c4c4"/><stop offset="1" stop-color="#ffffff" stop-opacity="0"/></radialGradient>
<linearGradient id="dsurf" x1="0" y1="0" x2="1" y2="1"><stop offset="0" stop-color="#e6e6e6"/><stop offset="1" stop-color="#d2d2d2"/></linearGradient></defs>
<g id="dmixer">
<ellipse cx="688" cy="1036" rx="100" ry="27" transform="rotate(14 688 1036)" fill="url(#dshadow)"/>
<path d="M728 1044.8 L791.6 944.6 L795 946.8 L794.5 986 L788 995 L732.4 1057.4 Z" fill="#2a2a2a"/>
<path d="M595.7 996.9 L728.6 1045.5 L791.6 944.6 L680.7 926.6 Z" fill="url(#dsurf)"/>
<path d="M595.7 996.9 L728.6 1045.5 L729.8 1057 L598.8 1007.2 Z" fill="#c4c4c4"/>
<line x1="597.5" y1="1002" x2="729" y2="1051" stroke="#e0e0e0" stroke-width="1"/>
<line x1="680.7" y1="926.6" x2="595.7" y2="996.9" stroke="#1a1a1a" stroke-width="2"/>
<line x1="595.7" y1="996.9" x2="598.8" y2="1007.2" stroke="#1a1a1a" stroke-width="1.8"/>
<path d="M609.2 991.6 L612.3 992.7 L645.8 963.8 L642.8 963.0 Z" fill="#eeeeee" />
<line x1="610.7" y1="992.1" x2="644.3" y2="963.4" stroke="#8a8a8a" stroke-width="0.9"/>
<path d="M617.7 994.6 L620.8 995.7 L653.7 966.0 L650.8 965.2 Z" fill="#eeeeee" />
<line x1="619.2" y1="995.1" x2="652.2" y2="965.6" stroke="#8a8a8a" stroke-width="0.9"/>
<path d="M626.2 997.5 L629.3 998.6 L661.6 968.1 L658.7 967.3 Z" fill="#eeeeee" />
<line x1="627.7" y1="998.1" x2="660.1" y2="967.7" stroke="#8a8a8a" stroke-width="0.9"/>
<path d="M634.7 1000.5 L637.8 1001.6 L669.5 970.3 L666.6 969.5 Z" fill="#eeeeee" />
<line x1="636.2" y1="1001.0" x2="668.1" y2="969.9" stroke="#8a8a8a" stroke-width="0.9"/>
<path d="M643.1 1003.4 L646.3 1004.5 L677.5 972.5 L674.5 971.7 Z" fill="#eeeeee" />
<line x1="644.7" y1="1004.0" x2="676.0" y2="972.1" stroke="#8a8a8a" stroke-width="0.9"/>
<path d="M651.6 1006.4 L654.8 1007.5 L685.4 974.6 L682.4 973.8 Z" fill="#eeeeee" />
<line x1="653.2" y1="1006.9" x2="683.9" y2="974.2" stroke="#8a8a8a" stroke-width="0.9"/>
<path d="M660.1 1009.4 L663.3 1010.5 L693.3 976.8 L690.4 976.0 Z" fill="#eeeeee" />
<line x1="661.7" y1="1009.9" x2="691.8" y2="976.4" stroke="#8a8a8a" stroke-width="0.9"/>
<path d="M668.6 1012.3 L671.8 1013.4 L701.2 979.0 L698.3 978.2 Z" fill="#eeeeee" />
<line x1="670.2" y1="1012.9" x2="699.8" y2="978.6" stroke="#8a8a8a" stroke-width="0.9"/>
<path d="M677.1 1015.3 L680.3 1016.4 L709.1 981.1 L706.2 980.3 Z" fill="#eeeeee" />
<line x1="678.7" y1="1015.8" x2="707.7" y2="980.7" stroke="#8a8a8a" stroke-width="0.9"/>
<path d="M685.6 1018.2 L688.8 1019.3 L717.1 983.3 L714.1 982.5 Z" fill="#eeeeee" />
<line x1="687.2" y1="1018.8" x2="715.6" y2="982.9" stroke="#8a8a8a" stroke-width="0.9"/>
<path d="M694.1 1021.2 L697.3 1022.3 L725.0 985.5 L722.1 984.7 Z" fill="#eeeeee" />
<line x1="695.7" y1="1021.7" x2="723.5" y2="985.1" stroke="#8a8a8a" stroke-width="0.9"/>
<path d="M702.6 1024.2 L705.8 1025.3 L732.9 987.6 L730.0 986.8 Z" fill="#eeeeee" />
<line x1="704.2" y1="1024.7" x2="731.5" y2="987.2" stroke="#8a8a8a" stroke-width="0.9"/>
<path d="M711.1 1027.1 L714.2 1028.2 L740.8 989.8 L737.9 989.0 Z" fill="#eeeeee" />
<line x1="712.7" y1="1027.7" x2="739.4" y2="989.4" stroke="#8a8a8a" stroke-width="0.9"/>
<path d="M602.0 997.2 L609.3 999.8 L613.9 995.8 L606.7 993.2 Z" fill="#111" />
<path d="M610.5 1000.2 L617.8 1002.9 L622.3 998.8 L615.1 996.2 Z" fill="#111" />
<path d="M619.0 1003.3 L626.3 1006.0 L630.7 1001.7 L623.5 999.2 Z" fill="#111" />
<path d="M627.5 1006.4 L634.8 1009.0 L639.1 1004.7 L631.9 1002.1 Z" fill="#111" />
<path d="M635.9 1009.5 L643.2 1012.1 L647.5 1007.6 L640.3 1005.1 Z" fill="#111" />
<path d="M644.4 1012.5 L651.7 1015.2 L655.9 1010.6 L648.7 1008.1 Z" fill="#111" />
<path d="M652.9 1015.6 L660.2 1018.2 L664.3 1013.6 L657.1 1011.0 Z" fill="#111" />
<path d="M661.4 1018.7 L668.7 1021.3 L672.7 1016.5 L665.5 1014.0 Z" fill="#111" />
<path d="M669.9 1021.7 L677.1 1024.4 L681.1 1019.5 L673.9 1017.0 Z" fill="#111" />
<path d="M678.3 1024.8 L685.6 1027.5 L689.5 1022.5 L682.3 1019.9 Z" fill="#111" />
<path d="M686.8 1027.9 L694.1 1030.5 L697.9 1025.4 L690.7 1022.9 Z" fill="#111" />
<path d="M695.3 1031.0 L702.6 1033.6 L706.3 1028.4 L699.1 1025.8 Z" fill="#111" />
<path d="M703.8 1034.0 L711.1 1036.7 L714.7 1031.4 L707.5 1028.8 Z" fill="#111" />
<ellipse cx="614.9" cy="988.6" rx="3.2" ry="2.4" fill="#c8c8c8" stroke="#7a7a7a" stroke-width="0.6"/>
<ellipse cx="623.4" cy="991.4" rx="3.2" ry="2.4" fill="#c8c8c8" stroke="#7a7a7a" stroke-width="0.6"/>
<ellipse cx="631.8" cy="994.3" rx="3.2" ry="2.4" fill="#c8c8c8" stroke="#7a7a7a" stroke-width="0.6"/>
<ellipse cx="640.2" cy="997.1" rx="3.2" ry="2.4" fill="#c8c8c8" stroke="#7a7a7a" stroke-width="0.6"/>
<ellipse cx="648.6" cy="1000.0" rx="3.2" ry="2.4" fill="#c8c8c8" stroke="#7a7a7a" stroke-width="0.6"/>
<ellipse cx="657.1" cy="1002.9" rx="3.2" ry="2.4" fill="#c8c8c8" stroke="#7a7a7a" stroke-width="0.6"/>
<ellipse cx="665.5" cy="1005.7" rx="3.2" ry="2.4" fill="#c8c8c8" stroke="#7a7a7a" stroke-width="0.6"/>
<ellipse cx="673.9" cy="1008.6" rx="3.2" ry="2.4" fill="#c8c8c8" stroke="#7a7a7a" stroke-width="0.6"/>
<ellipse cx="682.3" cy="1011.4" rx="3.2" ry="2.4" fill="#c8c8c8" stroke="#7a7a7a" stroke-width="0.6"/>
<ellipse cx="690.7" cy="1014.3" rx="3.2" ry="2.4" fill="#c8c8c8" stroke="#7a7a7a" stroke-width="0.6"/>
<ellipse cx="699.2" cy="1017.2" rx="3.2" ry="2.4" fill="#c8c8c8" stroke="#7a7a7a" stroke-width="0.6"/>
<ellipse cx="707.6" cy="1020.0" rx="3.2" ry="2.4" fill="#c8c8c8" stroke="#7a7a7a" stroke-width="0.6"/>
<ellipse cx="716.0" cy="1022.9" rx="3.2" ry="2.4" fill="#c8c8c8" stroke="#7a7a7a" stroke-width="0.6"/>
<path d="M645.5 963.7 L650.4 965.1 L653.3 962.5 L648.4 961.2 Z" fill="#151515" />
<path d="M652.3 965.6 L657.2 966.9 L660.1 964.3 L655.2 963.0 Z" fill="#151515" />
<path d="M659.2 967.5 L664.0 968.8 L666.9 966.1 L662.0 964.8 Z" fill="#151515" />
<path d="M666.0 969.3 L670.9 970.7 L673.6 967.9 L668.8 966.6 Z" fill="#151515" />
<path d="M672.8 971.2 L677.7 972.5 L680.4 969.7 L675.6 968.4 Z" fill="#151515" />
<path d="M679.6 973.1 L684.5 974.4 L687.2 971.5 L682.4 970.2 Z" fill="#151515" />
<path d="M686.5 974.9 L691.3 976.3 L694.0 973.3 L689.1 972.1 Z" fill="#151515" />
<path d="M693.3 976.8 L698.2 978.1 L700.8 975.1 L695.9 973.9 Z" fill="#151515" />
<path d="M700.1 978.7 L705.0 980.0 L707.6 977.0 L702.7 975.7 Z" fill="#151515" />
<path d="M707.0 980.5 L711.8 981.9 L714.3 978.8 L709.5 977.5 Z" fill="#151515" />
<path d="M713.8 982.4 L718.7 983.7 L721.1 980.6 L716.3 979.3 Z" fill="#151515" />
<path d="M720.6 984.3 L725.5 985.6 L727.9 982.4 L723.1 981.1 Z" fill="#151515" />
<path d="M727.4 986.1 L732.3 987.5 L734.7 984.2 L729.8 982.9 Z" fill="#151515" />
<path d="M734.3 988.0 L739.1 989.3 L741.5 986.0 L736.6 984.7 Z" fill="#151515" />
<circle cx="653.9" cy="956.5" r="1.6" fill="#8a8a8a"/>
<circle cx="661.1" cy="958.3" r="1.6" fill="#8a8a8a"/>
<circle cx="668.2" cy="960.2" r="1.6" fill="#8a8a8a"/>
<circle cx="675.4" cy="962.0" r="1.6" fill="#8a8a8a"/>
<circle cx="682.6" cy="963.8" r="1.6" fill="#8a8a8a"/>
<circle cx="689.8" cy="965.6" r="1.6" fill="#8a8a8a"/>
<circle cx="659.3" cy="951.8" r="1.6" fill="#8a8a8a"/>
<circle cx="666.4" cy="953.5" r="1.6" fill="#8a8a8a"/>
<circle cx="673.5" cy="955.2" r="1.6" fill="#8a8a8a"/>
<circle cx="680.6" cy="956.9" r="1.6" fill="#8a8a8a"/>
<circle cx="687.7" cy="958.6" r="1.6" fill="#8a8a8a"/>
<circle cx="694.8" cy="960.3" r="1.6" fill="#8a8a8a"/>
<circle cx="664.8" cy="947.2" r="1.6" fill="#8a8a8a"/>
<circle cx="671.8" cy="948.7" r="1.6" fill="#8a8a8a"/>
<circle cx="678.8" cy="950.3" r="1.6" fill="#8a8a8a"/>
<circle cx="685.8" cy="951.9" r="1.6" fill="#8a8a8a"/>
<circle cx="692.8" cy="953.5" r="1.6" fill="#8a8a8a"/>
<circle cx="699.8" cy="955.0" r="1.6" fill="#8a8a8a"/>
<circle cx="670.2" cy="942.5" r="1.6" fill="#8a8a8a"/>
<circle cx="677.1" cy="943.9" r="1.6" fill="#8a8a8a"/>
<circle cx="684.0" cy="945.4" r="1.6" fill="#8a8a8a"/>
<circle cx="691.0" cy="946.8" r="1.6" fill="#8a8a8a"/>
<circle cx="697.9" cy="948.3" r="1.6" fill="#8a8a8a"/>
<circle cx="704.8" cy="949.7" r="1.6" fill="#8a8a8a"/>
<circle cx="711.7" cy="951.2" r="1.6" fill="#8a8a8a"/>
<circle cx="718.7" cy="952.7" r="1.6" fill="#8a8a8a"/>
<circle cx="725.6" cy="954.1" r="1.6" fill="#8a8a8a"/>
<circle cx="732.5" cy="955.6" r="1.6" fill="#8a8a8a"/>
<circle cx="675.6" cy="937.8" r="1.6" fill="#8a8a8a"/>
<circle cx="682.5" cy="939.1" r="1.6" fill="#8a8a8a"/>
<circle cx="689.3" cy="940.5" r="1.6" fill="#8a8a8a"/>
<circle cx="696.2" cy="941.8" r="1.6" fill="#8a8a8a"/>
<circle cx="703.0" cy="943.1" r="1.6" fill="#8a8a8a"/>
<circle cx="709.8" cy="944.5" r="1.6" fill="#8a8a8a"/>
<circle cx="716.7" cy="945.8" r="1.6" fill="#8a8a8a"/>
<circle cx="723.5" cy="947.1" r="1.6" fill="#8a8a8a"/>
<circle cx="730.3" cy="948.5" r="1.6" fill="#8a8a8a"/>
<circle cx="737.2" cy="949.8" r="1.6" fill="#8a8a8a"/>
<circle cx="681.1" cy="933.1" r="1.6" fill="#8a8a8a"/>
<circle cx="687.8" cy="934.3" r="1.6" fill="#8a8a8a"/>
<circle cx="694.6" cy="935.5" r="1.6" fill="#8a8a8a"/>
<circle cx="701.3" cy="936.7" r="1.6" fill="#8a8a8a"/>
<circle cx="708.1" cy="938.0" r="1.6" fill="#8a8a8a"/>
<circle cx="714.8" cy="939.2" r="1.6" fill="#8a8a8a"/>
<circle cx="721.6" cy="940.4" r="1.6" fill="#8a8a8a"/>
<circle cx="728.3" cy="941.6" r="1.6" fill="#8a8a8a"/>
<circle cx="735.1" cy="942.8" r="1.6" fill="#8a8a8a"/>
<circle cx="741.9" cy="944.0" r="1.6" fill="#8a8a8a"/>
<rect x="706.1999999999999" y="971.8" width="3.2" height="2.4" fill="#e82020" transform="rotate(12 707.8 973)"/>
<rect x="714.4" y="973.5999999999999" width="3.2" height="2.4" fill="#e82020" transform="rotate(12 716 974.8)"/>
<rect x="722.6" y="975.5" width="3.2" height="2.4" fill="#e82020" transform="rotate(12 724.2 976.7)"/>
<rect x="731.4" y="977.4" width="3.2" height="2.4" fill="#e82020" transform="rotate(12 733 978.6)"/>
<rect x="740.8" y="979.9" width="3.2" height="2.4" fill="#e82020" transform="rotate(12 742.4 981.1)"/>
<rect x="726.4" y="970.5" width="3.2" height="2.4" fill="#f0e020" transform="rotate(12 728 971.7)"/>
<path d="M721 933.9 L771.4 942.1 L756.3 963.5 L705.9 952.8 Z" fill="#2e2e2e"/>
<path d="M722.5 936.2 L768.3 943.8 L755.3 961.3 L708.5 951.6 Z" fill="#b8bcc0"/>
<path d="M727 938.5 L755 943 L750 948.5 L722 944 Z" fill="#1a1a1a"/>
<path d="M713 949 L740 953.5 L738 955.5 L711 951 Z" fill="#4a8ad8" opacity="0.7"/>
<line x1="775" y1="948" x2="770" y2="958" stroke="#d04030" stroke-width="0.8"/><line x1="780" y1="948.5" x2="775" y2="958.5" stroke="#d04030" stroke-width="0.8"/>
<line x1="771" y1="955" x2="768" y2="961" stroke="#40b040" stroke-width="0.8"/><line x1="776" y1="955.5" x2="773" y2="961.5" stroke="#40b040" stroke-width="0.8"/>
<circle cx="748" cy="964" r="2" fill="#777"/><circle cx="762" cy="966.5" r="2" fill="#777"/>

<rect x="721.1" y="1030.1" width="4" height="2.4" fill="#9a9a9a" transform="rotate(20 723.1 1031.3)"/>
<rect x="725.7" y="1023.2" width="4" height="2.4" fill="#9a9a9a" transform="rotate(20 727.7 1024.4)"/>
<rect x="730.2" y="1016.4" width="4" height="2.4" fill="#9a9a9a" transform="rotate(20 732.2 1017.6)"/>
<rect x="734.8" y="1009.5" width="4" height="2.4" fill="#9a9a9a" transform="rotate(20 736.8 1010.7)"/>
<rect x="739.3" y="1002.6" width="4" height="2.4" fill="#9a9a9a" transform="rotate(20 741.3 1003.8)"/>
<line x1="715.3" y1="1034.6" x2="744.9" y2="990.9" stroke="#aaa" stroke-width="0.6"/>
</g>
<g id="antamp">
<path d="M91.6 1090.2 H214.8 L240.9 1096.4 H73.3 Z" fill="#262626"/>
<rect x="73.3" y="1096.2" width="167.6" height="18.4" fill="#161616"/>
<rect x="74" y="1114.6" width="166" height="1.4" fill="#c8c8c8"/>
<rect x="87" y="1115.6" width="8" height="1.8" fill="#222"/><rect x="222" y="1115.6" width="7" height="1.8" fill="#222"/>
<line x1="103.3" y1="1097" x2="103.3" y2="1114" stroke="#777" stroke-width="0.6"/>
<rect x="104" y="1097" width="109.8" height="17" fill="#121212"/>
<rect x="87.2" y="1100.5" width="5.5" height="9" rx="0.8" fill="#2e2e2e"/><rect x="88.2" y="1101.3" width="3.5" height="1.8" fill="#c04040"/>
<rect x="88.4" y="1111" width="3" height="1" fill="#888"/>
<rect x="106" y="1099.3" width="7" height="1.4" fill="#ddd"/>
<rect x="126" y="1107" width="41" height="1" fill="#aaa"/>
</g>
<g id="ipterm">
<ellipse cx="455" cy="1264" rx="100" ry="4" fill="#e6e6e6"/>
<path d="M518.8 1226.5 L547.8 1225.2 L547.8 1258.5 L518.8 1260.4 Z" fill="#3c3c3c"/>
<path d="M358.2 1226 L518.8 1226 L547.8 1224.8 L520 1224.2 L380 1224.4 Z" fill="#222"/>
<rect x="358.2" y="1226.2" width="160.6" height="34.2" fill="#111"/>
<rect x="360" y="1227" width="6" height="32.6" fill="#1c1c1c"/><rect x="511" y="1227" width="6.5" height="32.6" fill="#1c1c1c"/>
<ellipse cx="362.5" cy="1230.5" rx="1.8" ry="1.1" fill="#ddd"/><ellipse cx="362.5" cy="1254.5" rx="1.8" ry="1.1" fill="#ddd"/>
<ellipse cx="515" cy="1231.3" rx="1.8" ry="1.1" fill="#ddd"/><ellipse cx="515" cy="1256.8" rx="1.8" ry="1.1" fill="#ddd"/>
<rect x="387.8" y="1232.6" width="104.2" height="1.6" fill="#e8e8e8"/>
<rect x="374" y="1241.5" width="6" height="8.5" fill="#2a2a2a"/>
<rect x="374" y="1232" width="6" height="1.2" fill="#bbb"/>
<circle cx="390.5" cy="1241" r="1.7" fill="none" stroke="#777" stroke-width="0.6"/>
<circle cx="395.2" cy="1241" r="1.7" fill="none" stroke="#777" stroke-width="0.6"/>
<circle cx="399.9" cy="1241" r="1.7" fill="none" stroke="#777" stroke-width="0.6"/>
<circle cx="404.6" cy="1241" r="1.7" fill="none" stroke="#777" stroke-width="0.6"/>
<circle cx="409.3" cy="1241" r="1.7" fill="none" stroke="#777" stroke-width="0.6"/>
<circle cx="414.0" cy="1241" r="1.7" fill="none" stroke="#777" stroke-width="0.6"/>
<circle cx="418.7" cy="1241" r="1.7" fill="none" stroke="#777" stroke-width="0.6"/>
<circle cx="423.4" cy="1241" r="1.7" fill="none" stroke="#777" stroke-width="0.6"/>
<circle cx="428.1" cy="1241" r="1.7" fill="none" stroke="#777" stroke-width="0.6"/>
<circle cx="432.8" cy="1241" r="1.7" fill="none" stroke="#777" stroke-width="0.6"/>
<circle cx="436" cy="1241" r="1.7" fill="none" stroke="#777" stroke-width="0.6"/>
<circle cx="441" cy="1241" r="1.7" fill="none" stroke="#777" stroke-width="0.6"/>
<circle cx="390.5" cy="1249.5" r="1.7" fill="none" stroke="#777" stroke-width="0.6"/>
<circle cx="395.2" cy="1249.5" r="1.7" fill="none" stroke="#777" stroke-width="0.6"/>
<circle cx="399.9" cy="1249.5" r="1.7" fill="none" stroke="#777" stroke-width="0.6"/>
<circle cx="404.6" cy="1249.5" r="1.7" fill="none" stroke="#777" stroke-width="0.6"/>
<circle cx="409.3" cy="1249.5" r="1.7" fill="none" stroke="#777" stroke-width="0.6"/>
<circle cx="414.0" cy="1249.5" r="1.7" fill="none" stroke="#777" stroke-width="0.6"/>
<circle cx="418.7" cy="1249.5" r="1.7" fill="none" stroke="#777" stroke-width="0.6"/>
<circle cx="423.4" cy="1249.5" r="1.7" fill="none" stroke="#777" stroke-width="0.6"/>
<circle cx="428.1" cy="1249.5" r="1.7" fill="none" stroke="#777" stroke-width="0.6"/>
<circle cx="432.8" cy="1249.5" r="1.7" fill="none" stroke="#777" stroke-width="0.6"/>
<circle cx="436" cy="1249.5" r="1.7" fill="none" stroke="#777" stroke-width="0.6"/>
<circle cx="441" cy="1249.5" r="1.7" fill="none" stroke="#777" stroke-width="0.6"/>
<circle cx="446.5" cy="1249.5" r="1.7" fill="none" stroke="#777" stroke-width="0.6"/>
<circle cx="451.5" cy="1245.5" r="3.8" fill="#1a1a1a" stroke="#666" stroke-width="0.6"/>
<line x1="459.5" y1="1238" x2="459.5" y2="1254" stroke="#555" stroke-width="0.6"/>
<circle cx="463.5" cy="1241" r="1.8" fill="none" stroke="#777" stroke-width="0.6"/>
<circle cx="469" cy="1241" r="1.8" fill="none" stroke="#777" stroke-width="0.6"/>
<circle cx="463.5" cy="1249.5" r="1.8" fill="none" stroke="#777" stroke-width="0.6"/>
<circle cx="469" cy="1249.5" r="1.8" fill="none" stroke="#777" stroke-width="0.6"/>
<rect x="478.0" y="1239.5" width="1.4" height="1.3" fill="#e0d020"/><rect x="478.0" y="1241.5" width="1.4" height="1.2" fill="#d03020"/><rect x="478.0" y="1243" width="1.4" height="11" fill="#30a040"/>
<rect x="480.6" y="1239.5" width="1.4" height="1.3" fill="#e0d020"/><rect x="480.6" y="1241.5" width="1.4" height="1.2" fill="#d03020"/><rect x="480.6" y="1243" width="1.4" height="11" fill="#30a040"/>
<rect x="483.2" y="1239.5" width="1.4" height="1.3" fill="#e0d020"/><rect x="483.2" y="1241.5" width="1.4" height="1.2" fill="#d03020"/><rect x="483.2" y="1243" width="1.4" height="11" fill="#30a040"/>
<rect x="485.8" y="1239.5" width="1.4" height="1.3" fill="#e0d020"/><rect x="485.8" y="1241.5" width="1.4" height="1.2" fill="#d03020"/><rect x="485.8" y="1243" width="1.4" height="11" fill="#30a040"/>
<rect x="470" y="1257" width="35" height="0.8" fill="#777"/>
<rect x="383" y="1260.4" width="5" height="1.8" fill="#222"/><rect x="495" y="1260.8" width="5" height="1.8" fill="#222"/>
<rect x="520.5" y="1239" width="3.5" height="1.6" fill="#111"/><rect x="525" y="1239" width="2.5" height="1.6" fill="#111"/>
<rect x="520.5" y="1242" width="3.5" height="1.6" fill="#111"/><rect x="525" y="1242" width="2.5" height="1.6" fill="#111"/>
<rect x="520.5" y="1245" width="3.5" height="1.6" fill="#111"/><rect x="525" y="1245" width="2.5" height="1.6" fill="#111"/>
<rect x="520.5" y="1248" width="3.5" height="1.6" fill="#111"/><rect x="525" y="1248" width="2.5" height="1.6" fill="#111"/>
<rect x="520.5" y="1251" width="3.5" height="1.6" fill="#111"/><rect x="525" y="1251" width="2.5" height="1.6" fill="#111"/>
</g>
<g id="cloud">
<path d="M138.3 1200.7 L137.7 1200.1 L137.2 1199.6 L136.5 1199.1 L135.9 1198.6 L135.3 1198.1 L134.6 1197.6 L133.9 1197.2 L133.2 1196.8 L132.5 1196.4 L131.8 1196.0 L131.1 1195.7 L130.4 1195.4 L129.6 1195.1 L128.9 1194.8 L128.1 1194.6 L127.3 1194.3 L126.6 1194.1 L125.8 1194.0 L125.0 1193.8 L124.2 1193.7 L123.4 1193.6 L122.6 1193.6 L121.8 1193.5 L121.0 1193.5 L120.2 1193.5 L119.4 1193.6 L118.6 1193.6 L117.8 1193.7 L117.0 1193.8 L116.2 1194.0 L115.4 1194.1 L114.7 1194.3 L113.9 1194.6 L113.1 1194.8 L112.4 1195.1 L111.6 1195.4 L110.9 1195.7 L110.2 1196.0 L109.5 1196.4 L108.8 1196.8 L108.1 1197.2 L107.4 1197.6 L106.7 1198.1 L106.1 1198.6 L105.5 1199.1 L104.8 1199.6 L104.3 1200.1 L103.7 1200.7 L103.1 1201.3 L102.6 1201.8 L102.1 1202.5 L101.6 1203.1 L101.1 1203.7 L100.6 1204.4 L100.2 1205.1 L99.8 1205.8 L99.4 1206.5 L99.0 1207.2 L98.7 1207.9 L98.4 1208.6 L98.1 1209.4 L97.8 1210.1 L97.6 1210.9 L97.3 1211.7 L97.1 1212.4 L97.0 1213.2 L96.8 1214.0 L96.7 1214.8 L96.6 1215.6 L96.6 1216.4 L96.5 1217.2 L96.5 1218.0 L96.5 1218.8 L96.6 1219.6 L96.6 1220.4 L96.7 1221.2 L96.8 1222.0 L96.9 1222.6 L96.5 1222.5 L95.7 1222.5 L95.0 1222.5 L94.3 1222.5 L93.5 1222.5 L92.8 1222.6 L92.1 1222.7 L91.3 1222.8 L90.6 1222.9 L89.9 1223.1 L89.2 1223.3 L88.5 1223.5 L87.8 1223.7 L87.1 1223.9 L86.4 1224.2 L85.7 1224.5 L85.0 1224.8 L84.4 1225.2 L83.8 1225.5 L83.1 1225.9 L82.5 1226.3 L81.9 1226.7 L81.3 1227.1 L80.7 1227.6 L80.2 1228.1 L79.6 1228.6 L79.1 1229.1 L78.6 1229.6 L78.1 1230.2 L77.6 1230.7 L77.1 1231.3 L76.7 1231.9 L76.3 1232.5 L75.9 1233.1 L75.5 1233.8 L75.2 1234.4 L74.8 1235.0 L74.5 1235.7 L74.2 1236.4 L73.9 1237.1 L73.7 1237.8 L73.5 1238.5 L73.3 1239.2 L73.1 1239.9 L72.9 1240.6 L72.8 1241.3 L72.7 1242.1 L72.6 1242.8 L72.5 1243.5 L72.5 1244.3 L72.5 1245.0 L72.5 1245.7 L72.5 1246.5 L72.6 1247.2 L72.7 1247.9 L72.8 1248.7 L72.9 1249.4 L73.1 1250.1 L73.3 1250.8 L73.5 1251.5 L73.7 1252.2 L73.9 1252.9 L74.2 1253.6 L74.5 1254.3 L74.8 1255.0 L75.2 1255.6 L75.5 1256.2 L75.9 1256.9 L76.3 1257.5 L76.7 1258.1 L77.1 1258.7 L77.6 1259.3 L78.1 1259.8 L78.6 1260.4 L79.1 1260.9 L79.6 1261.4 L79.9 1261.6 L79.8 1261.7 L79.7 1262.0 L79.5 1262.2 L79.5 1262.5 L79.4 1262.7 L79.4 1263.0 L79.4 1263.3 L79.5 1263.5 L79.5 1263.8 L79.7 1264.0 L79.8 1264.3 L80.0 1264.6 L80.2 1264.8 L80.5 1265.1 L80.7 1265.3 L81.0 1265.6 L81.4 1265.8 L81.8 1266.1 L82.2 1266.3 L82.6 1266.5 L83.1 1266.8 L83.6 1267.0 L84.1 1267.2 L84.6 1267.4 L85.2 1267.7 L85.8 1267.9 L86.4 1268.1 L87.1 1268.3 L87.8 1268.5 L88.5 1268.7 L89.2 1268.8 L90.0 1269.0 L90.7 1269.2 L91.5 1269.3 L92.3 1269.5 L93.2 1269.7 L94.0 1269.8 L94.9 1269.9 L95.8 1270.1 L96.7 1270.2 L97.6 1270.3 L98.5 1270.4 L99.5 1270.5 L100.4 1270.6 L101.4 1270.7 L102.4 1270.7 L103.4 1270.8 L104.4 1270.8 L105.4 1270.9 L106.4 1270.9 L107.4 1271.0 L108.4 1271.0 L109.4 1271.0 L110.4 1271.0 L111.4 1271.0 L112.4 1271.0 L113.4 1271.0 L114.4 1270.9 L115.4 1270.9 L116.4 1270.8 L117.4 1270.8 L118.4 1270.7 L119.4 1270.7 L120.4 1270.6 L121.3 1270.5 L122.3 1270.4 L123.2 1270.3 L124.1 1270.2 L125.0 1270.1 L125.9 1269.9 L126.8 1269.8 L127.6 1269.7 L128.5 1269.5 L129.3 1269.3 L130.1 1269.2 L130.8 1269.0 L131.6 1268.8 L132.3 1268.7 L133.0 1268.5 L133.7 1268.3 L134.4 1268.1 L135.0 1267.9 L135.6 1267.7 L136.2 1267.4 L136.7 1267.2 L137.2 1267.0 L137.7 1266.8 L138.2 1266.5 L138.6 1266.3 L139.0 1266.1 L139.4 1265.8 L139.8 1265.6 L140.1 1265.3 L140.3 1265.1 L140.6 1264.8 L140.8 1264.6 L141.0 1264.3 L141.0 1264.3 L141.0 1264.3 L141.2 1264.6 L141.4 1264.8 L141.7 1265.1 L141.9 1265.3 L142.2 1265.6 L142.6 1265.8 L143.0 1266.1 L143.4 1266.3 L143.8 1266.5 L144.3 1266.8 L144.8 1267.0 L145.3 1267.2 L145.8 1267.4 L146.4 1267.7 L147.0 1267.9 L147.6 1268.1 L148.3 1268.3 L149.0 1268.5 L149.7 1268.7 L150.4 1268.8 L151.2 1269.0 L151.9 1269.2 L152.7 1269.3 L153.5 1269.5 L154.4 1269.7 L155.2 1269.8 L156.1 1269.9 L157.0 1270.1 L157.9 1270.2 L158.8 1270.3 L159.7 1270.4 L160.7 1270.5 L161.6 1270.6 L162.6 1270.7 L163.6 1270.7 L164.6 1270.8 L165.6 1270.8 L166.6 1270.9 L167.6 1270.9 L168.6 1271.0 L169.6 1271.0 L170.6 1271.0 L171.6 1271.0 L172.6 1271.0 L173.6 1271.0 L174.6 1271.0 L175.6 1270.9 L176.6 1270.9 L177.6 1270.8 L178.6 1270.8 L179.6 1270.7 L180.6 1270.7 L181.6 1270.6 L182.5 1270.5 L183.5 1270.4 L184.4 1270.3 L185.3 1270.2 L186.2 1270.1 L187.1 1269.9 L188.0 1269.8 L188.8 1269.7 L189.7 1269.5 L190.5 1269.3 L191.3 1269.2 L192.0 1269.0 L192.8 1268.8 L193.5 1268.7 L194.2 1268.5 L194.9 1268.3 L195.6 1268.1 L196.2 1267.9 L196.8 1267.7 L197.4 1267.4 L197.9 1267.2 L198.4 1267.0 L198.9 1266.8 L199.4 1266.5 L199.8 1266.3 L200.2 1266.1 L200.6 1265.8 L201.0 1265.6 L201.3 1265.3 L201.5 1265.1 L201.8 1264.8 L202.0 1264.6 L202.2 1264.3 L202.3 1264.0 L202.5 1263.8 L202.5 1263.5 L202.6 1263.3 L202.6 1263.0 L202.6 1262.7 L202.5 1262.5 L202.5 1262.2 L202.3 1262.0 L202.2 1261.7 L202.5 1261.5 L203.1 1261.1 L203.6 1260.6 L204.2 1260.2 L204.7 1259.7 L205.2 1259.2 L205.7 1258.7 L206.2 1258.2 L206.6 1257.6 L207.1 1257.1 L207.5 1256.5 L207.9 1255.9 L208.3 1255.4 L208.6 1254.8 L209.0 1254.1 L209.3 1253.5 L209.6 1252.9 L209.9 1252.2 L210.1 1251.6 L210.4 1250.9 L210.6 1250.2 L210.8 1249.6 L210.9 1248.9 L211.1 1248.2 L211.2 1247.5 L211.3 1246.8 L211.4 1246.1 L211.5 1245.4 L211.5 1244.7 L211.5 1244.0 L211.5 1243.3 L211.5 1242.6 L211.4 1241.9 L211.3 1241.2 L211.2 1240.5 L211.1 1239.8 L210.9 1239.1 L210.8 1238.4 L210.6 1237.8 L210.4 1237.1 L210.1 1236.4 L209.9 1235.8 L209.6 1235.1 L209.3 1234.5 L209.0 1233.9 L208.6 1233.2 L208.3 1232.6 L207.9 1232.1 L207.5 1231.5 L207.1 1230.9 L206.6 1230.4 L206.2 1229.8 L205.7 1229.3 L205.2 1228.8 L204.7 1228.3 L204.2 1227.8 L203.6 1227.4 L203.1 1226.9 L202.5 1226.5 L201.9 1226.1 L201.4 1225.7 L200.8 1225.4 L200.1 1225.0 L199.5 1224.7 L198.9 1224.4 L198.2 1224.1 L197.6 1223.9 L196.9 1223.6 L196.2 1223.4 L195.6 1223.2 L194.9 1223.1 L194.2 1222.9 L193.5 1222.8 L192.8 1222.7 L192.1 1222.6 L191.4 1222.5 L190.7 1222.5 L190.0 1222.5 L189.3 1222.5 L188.6 1222.5 L187.9 1222.6 L187.2 1222.7 L186.5 1222.8 L185.8 1222.9 L185.1 1223.1 L184.4 1223.2 L183.8 1223.4 L183.1 1223.6 L182.4 1223.9 L181.8 1224.1 L181.1 1224.4 L180.9 1224.5 L181.0 1223.8 L181.2 1223.0 L181.3 1222.2 L181.4 1221.4 L181.4 1220.6 L181.5 1219.8 L181.5 1219.0 L181.5 1218.2 L181.4 1217.4 L181.4 1216.6 L181.3 1215.8 L181.2 1215.0 L181.0 1214.2 L180.9 1213.4 L180.7 1212.7 L180.4 1211.9 L180.2 1211.1 L179.9 1210.4 L179.6 1209.6 L179.3 1208.9 L179.0 1208.2 L178.6 1207.5 L178.2 1206.8 L177.8 1206.1 L177.4 1205.4 L176.9 1204.7 L176.4 1204.1 L175.9 1203.5 L175.4 1202.8 L174.9 1202.3 L174.3 1201.7 L173.7 1201.1 L173.2 1200.6 L172.5 1200.1 L171.9 1199.6 L171.3 1199.1 L170.6 1198.6 L169.9 1198.2 L169.2 1197.8 L168.5 1197.4 L167.8 1197.0 L167.1 1196.7 L166.4 1196.4 L165.6 1196.1 L164.9 1195.8 L164.1 1195.6 L163.3 1195.3 L162.6 1195.1 L161.8 1195.0 L161.0 1194.8 L160.2 1194.7 L159.4 1194.6 L158.6 1194.6 L157.8 1194.5 L157.0 1194.5 L156.2 1194.5 L155.4 1194.6 L154.6 1194.6 L153.8 1194.7 L153.0 1194.8 L152.2 1195.0 L151.4 1195.1 L150.7 1195.3 L149.9 1195.6 L149.1 1195.8 L148.4 1196.1 L147.6 1196.4 L146.9 1196.7 L146.2 1197.0 L145.5 1197.4 L144.8 1197.8 L144.1 1198.2 L143.4 1198.6 L142.7 1199.1 L142.1 1199.6 L141.5 1200.1 L140.8 1200.6 L140.3 1201.1 L139.7 1201.7 L139.5 1201.9 L139.4 1201.8 L138.9 1201.3 L138.3 1200.7 Z" fill="#fff" stroke="#0fa0e8" stroke-width="3.6" stroke-linejoin="round"/>
<text x="141.9" y="1242.3" font-family="Liberation Sans" font-weight="bold" font-size="16" letter-spacing="0.2" fill="#0fa0e8" text-anchor="middle">局域网/广域网</text>
<text x="143.2" y="1259.2" font-family="Liberation Sans" font-weight="bold" font-size="16" fill="#0fa0e8" text-anchor="middle">LAN/WAN</text>
</g>
<g stroke="#0fa0e8" stroke-width="2" fill="none" stroke-linecap="round" stroke-linejoin="round">
<line x1="219" y1="1247.5" x2="347.5" y2="1247.5"/>
<polyline points="224.5,1242.3 218.6,1247.5 224.5,1252.7"/>
<polyline points="342,1242.3 348,1247.5 342,1252.7"/>
</g>
<defs><linearGradient id="lafront" x1="0" y1="0" x2="1" y2="0"><stop offset="0" stop-color="#2a2e33"/><stop offset="0.5" stop-color="#1d2024"/><stop offset="1" stop-color="#16181b"/></linearGradient>
<linearGradient id="bsfront" x1="0" y1="0" x2="1" y2="0"><stop offset="0" stop-color="#2d333d"/><stop offset="1" stop-color="#1f242c"/></linearGradient>
<linearGradient id="wgrill" x1="0" y1="0" x2="0" y2="1"><stop offset="0" stop-color="#1e1e1e"/><stop offset="1" stop-color="#121212"/></linearGradient></defs>
<defs><g id="larray"><path d="M1.7 2.8 L18.5 0 L35.8 8.4 L34.1 141.8 L28 144.6 L4 144 Q0 110 0.2 71 Q0 40 1.7 2.8 Z" fill="#1d1f22"/>
<path d="M1.7 2.8 L18.5 0 L35.8 8.4 L28 9 Z" fill="#2a2c2f"/>
<path d="M28 7 L35.8 8.4 L34.1 141.8 L28 144.6 Z" fill="#1f2124"/>
<path d="M1.7 2.8 L28 7 L28 144.6 L4 144 Q0 110 0.2 71 Q0 40 1.7 2.8 Z" fill="url(#lafront)"/>
<line x1="0.3" y1="71" x2="28" y2="71.3" stroke="#5a5e62" stroke-width="1"/>
<path d="M1.8 10 L5.5 14 L1.8 18 Z" fill="#3a4654"/>
<path d="M1.8 26 L5.5 30 L1.8 34 Z" fill="#3a4654"/>
<path d="M1.8 42 L5.5 46 L1.8 50 Z" fill="#3a4654"/>
<path d="M1.8 58 L5.5 62 L1.8 66 Z" fill="#3a4654"/>
<path d="M1.8 80 L5.5 84 L1.8 88 Z" fill="#3a4654"/>
<path d="M1.8 96 L5.5 100 L1.8 104 Z" fill="#3a4654"/>
<path d="M1.8 112 L5.5 116 L1.8 120 Z" fill="#3a4654"/>
<path d="M1.8 128 L5.5 132 L1.8 136 Z" fill="#3a4654"/>
<line x1="14" y1="6" x2="14.5" y2="143" stroke="#2e3236" stroke-width="0.8"/>
<rect x="30" y="34" width="3.5" height="9" fill="#0a0a0a"/><rect x="30.5" y="91" width="3.5" height="5" fill="#0a0a0a"/><rect x="31" y="92" width="2" height="2" fill="#ddd"/>
<rect x="29" y="60" width="1.2" height="18" fill="#0e0e0e"/>
</g></defs>
<defs><g id="bsspk"><path d="M0 1 L22.2 0 L37.1 3 L37.8 76.9 L26.9 79.9 L7 80.2 Z" fill="#1f2630"/>
<path d="M22.2 0 L37.1 3 L37.8 76.9 L26.9 79.9 Z" fill="#1d3553"/>
<path d="M0 1 L22.2 0 L26.9 79.9 L7 80.2 Z" fill="url(#bsfront)"/>
<path d="M6 16 L12 28 L18 16 M6 44 L12 56 L18 44" fill="none" stroke="#3c4450" stroke-width="1"/>
<rect x="32.5" y="18.5" width="3.5" height="9" fill="#0a0a0a"/>
<circle cx="14.9" cy="77.7" r="1.2" fill="#eee"/>
</g></defs>
<defs><g id="wedge">
<path d="M-1.8 3.3 L99.8 0 Q114 20 121.8 60 L114 70.9 L8.4 80.6 L-1.8 71.8 Z" fill="#101010"/>
<path d="M3 4.5 L99.8 0.5 Q113 20 120.6 59.5 L16.5 64.5 Q12 30 3 4.5 Z" fill="url(#wgrill)"/>
<path d="M16.5 64.5 L120.6 59.5 L113.6 70.5 L8.8 80 Z" fill="#0c0c0c"/>
<line x1="16.5" y1="64.8" x2="119" y2="59.8" stroke="#2e2e2e" stroke-width="0.8"/>
<rect x="63.9" y="49.1" width="10.1" height="10.9" fill="#d8ccb8"/><rect x="65" y="51.5" width="8" height="1.5" fill="#c07840"/><rect x="67" y="55" width="4" height="2.5" fill="#a08060"/>
</g></defs>
<defs><g id="sub"><path d="M0 5.3 L116.3 0 L149.4 16 L147.9 83.3 L16.8 95.5 L1.5 68 Z" fill="#151515"/>
<path d="M0 5.3 L116.3 0 L149.4 16 L15.8 23.6 Z" fill="#222"/>
<path d="M0 5.3 L15.8 23.6 L16.8 95.5 L1.5 68 Z" fill="#151515"/>
<path d="M15.8 23.6 L149.4 16 L147.9 83.3 L16.8 95.5 Z" fill="#171717"/>
<path d="M21 27 L144 20 L143 80 L22 91 Z" fill="#111"/>
<path d="M36.3 26 L64.8 24 L62 27 L39 28.5 Z" fill="#5a5a5a"/><path d="M103.5 21.5 L130 20 L127.5 22.5 L105 23.8 Z" fill="#5a5a5a"/>
<rect x="83.2" y="41" width="2.2" height="28" rx="1" fill="#55555a"/>
<rect x="81.9" y="79.5" width="5.9" height="6.5" fill="#d8ccb8"/><rect x="82.6" y="81.6" width="4.5" height="1" fill="#b08050"/>
<rect x="3" y="30" width="2" height="6" fill="#0a0a0a"/><rect x="3" y="45" width="2" height="6" fill="#0a0a0a"/>
</g></defs>
<use href="#larray" x="1237.8" y="673.4"/>
<g transform="translate(1458.8,673.4) scale(1,0.973)"><use href="#larray"/></g>
<use href="#bsspk" x="1236.6" y="883.3"/>
<use href="#bsspk" x="1472.2" y="887.1"/>
<use href="#wedge" x="1195.9" y="1029.7"/>
<use href="#wedge" x="1431.4" y="1030.2"/>
<use href="#sub" x="1180.7" y="1154"/>
<use href="#sub" x="1415.8" y="1154.8"/>
<!-- LABELS -->
<g class="t">
<text x="181.3" y="279.7">有源定向天线</text>
<text x="500.6" y="274.7">无线手持话筒</text>
<text x="778.1" y="274.7">模拟调音台</text>
<text x="778.1" y="419.7">音频处理器</text>
<text x="1047" y="228.2">双通道专业功放</text>
<text x="1046.6" y="419.7">双通道专业功放</text>
<text x="1294.2" y="226.7">全天候全频远程音箱</text>
<text x="1480.1" y="224.2">全天候全频远程音箱</text>
<text x="1295.1" y="422.2">全天候全频远程音箱</text>
<text x="1480.6" y="422.2">全天候全频远程音箱</text>

<text x="455.2" y="977.7">无线手持话筒</text>
<text x="455.3" y="1145.7">无线手持话筒</text>
<text x="157.6" y="1145.7">天线放大器</text>
<text x="693.3" y="814.7">监听音箱</text>
<text x="692.6" y="1090.7">数字调音台</text>
<text x="692.9" y="1292.5">音频处理器</text>
<text x="452.6" y="1291.7">IP网络音频终端</text>
<text x="283.6" y="1243.7">公共广播系统</text>
<text x="958.6" y="755.5">双通道专业功放</text>
<text x="958.6" y="936.5">双通道专业功放</text>
<text x="958.6" y="1116.5">双通道专业功放</text>
<text x="958.6" y="1292.5">双通道专业功放</text>
<text x="1256.1" y="840.2">轻量型线阵主扩音箱</text>
<text x="1491.6" y="840.2">轻量型线阵主扩音箱</text>
<text x="1256.1" y="983.5">补声音箱</text>
<text x="1491.6" y="987.7">补声音箱</text>
<text x="1256.6" y="1129.2">全频返听音箱</text>
<text x="1491.4" y="1129.2">全频返听音箱</text>
<text x="1256" y="1265.7">重低音音箱</text>
<text x="1491.6" y="1265.7">重低音音箱</text>
</g>
</svg>
</body></html>
